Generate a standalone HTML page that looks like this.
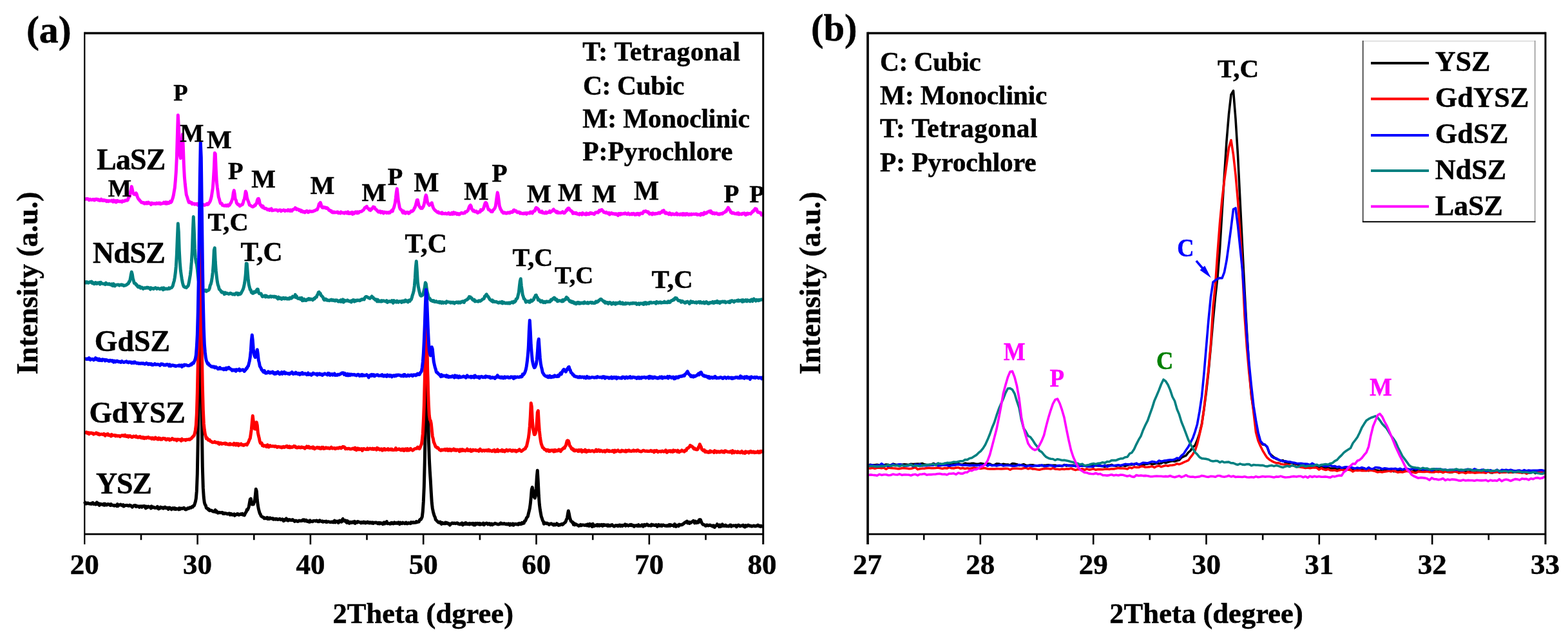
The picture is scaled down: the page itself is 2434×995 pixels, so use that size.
<!DOCTYPE html>
<html><head><meta charset="utf-8"><style>
html,body{margin:0;padding:0;background:#fff;}
svg{display:block;}
text{font-family:"Liberation Serif","Times New Roman",serif;font-weight:bold;fill:#000;stroke:#000;stroke-width:0.5px;}
</style></head><body>
<svg width="2434" height="995" viewBox="0 0 2434 995">
<rect width="2434" height="995" fill="#fff"/>
<polyline points="131.3,309.0 132.3,309.3 133.3,308.9 134.3,308.5 135.3,309.0 136.3,308.6 137.3,309.5 138.3,310.7 139.3,309.3 140.3,309.3 141.3,310.2 142.3,310.2 143.3,310.1 144.3,309.4 145.3,310.2 146.3,310.8 147.3,309.3 148.3,310.1 149.3,309.0 150.3,309.6 151.3,309.2 152.3,310.6 153.3,309.9 154.3,311.2 155.3,311.2 156.3,311.0 157.3,309.2 158.3,310.9 159.3,311.4 160.3,311.6 161.3,310.4 162.3,311.3 163.3,311.0 164.3,311.2 165.3,312.7 166.3,311.3 167.3,311.9 168.3,312.7 169.3,311.5 170.3,311.9 171.3,312.1 172.3,312.1 173.3,311.1 174.3,312.2 175.3,313.2 176.3,310.9 177.3,312.9 178.3,312.3 179.3,311.7 180.3,313.9 181.3,312.9 182.3,311.3 183.3,312.4 184.3,312.8 185.3,312.2 186.3,312.9 187.3,312.3 188.3,312.9 189.3,313.5 190.3,311.8 191.3,312.5 192.3,311.9 193.3,312.2 194.3,311.0 195.3,311.1 196.3,311.0 197.3,311.2 198.3,310.5 199.3,307.3 200.3,306.0 201.3,304.8 202.3,299.0 203.3,294.5 204.3,289.6 205.3,293.7 206.3,298.5 207.3,300.7 208.3,301.8 209.3,301.8 210.3,302.0 211.3,299.7 212.3,301.9 213.3,305.6 214.3,307.8 215.3,309.5 216.3,310.0 217.3,311.9 218.3,312.3 219.3,314.2 220.3,314.3 221.3,314.2 222.3,315.1 223.3,314.6 224.3,316.0 225.3,315.3 226.3,315.9 227.3,314.5 228.3,315.9 229.3,314.3 230.3,314.0 231.3,315.5 232.3,315.0 233.3,315.9 234.3,317.6 235.3,315.1 236.3,315.3 237.3,316.0 238.3,316.3 239.3,315.7 240.3,315.7 241.3,316.5 242.3,316.3 243.3,315.1 244.3,315.9 245.3,316.0 246.3,315.1 247.3,316.1 248.3,315.2 249.3,316.7 250.3,316.0 251.3,315.9 252.3,315.4 253.3,315.7 254.3,314.2 255.3,314.8 256.3,315.9 257.3,313.9 258.3,316.2 259.3,314.0 260.3,315.8 261.3,314.4 262.3,315.4 263.3,314.5 264.3,312.7 265.3,314.1 266.3,313.0 267.3,310.0 268.3,307.1 269.3,303.2 270.3,297.2 271.3,291.5 272.3,280.4 273.3,267.0 274.3,245.3 275.3,211.6 276.3,178.7 277.3,195.4 278.3,224.2 279.3,241.3 280.3,245.6 281.3,240.7 282.3,225.2 283.3,208.6 284.3,226.5 285.3,255.0 286.3,274.1 287.3,285.4 288.3,294.2 289.3,302.4 290.3,305.1 291.3,308.2 292.3,311.7 293.3,314.2 294.3,313.0 295.3,314.8 296.3,315.0 297.3,314.4 298.3,316.7 299.3,316.3 300.3,316.5 301.3,316.1 302.3,317.2 303.3,316.5 304.3,316.9 305.3,316.3 306.3,316.3 307.3,318.4 308.3,317.0 309.3,317.7 310.3,317.5 311.3,317.2 312.3,317.2 313.3,318.2 314.3,317.4 315.3,317.6 316.3,317.7 317.3,318.6 318.3,318.2 319.3,317.9 320.3,317.0 321.3,316.1 322.3,317.6 323.3,317.0 324.3,315.2 325.3,314.2 326.3,312.2 327.3,309.1 328.3,305.0 329.3,298.3 330.3,292.1 331.3,278.5 332.3,261.5 333.3,237.5 334.3,239.0 335.3,263.9 336.3,281.8 337.3,291.0 338.3,298.2 339.3,305.9 340.3,308.7 341.3,312.7 342.3,315.7 343.3,315.3 344.3,316.0 345.3,318.6 346.3,318.9 347.3,319.0 348.3,319.4 349.3,318.9 350.3,318.5 351.3,319.6 352.3,318.9 353.3,318.2 354.3,319.6 355.3,318.7 356.3,318.4 357.3,316.2 358.3,315.1 359.3,312.9 360.3,310.2 361.3,306.6 362.3,299.0 363.3,295.6 364.3,301.2 365.3,309.2 366.3,310.6 367.3,315.1 368.3,316.2 369.3,317.6 370.3,317.3 371.3,318.6 372.3,319.8 373.3,318.9 374.3,318.6 375.3,317.5 376.3,317.5 377.3,315.0 378.3,311.1 379.3,309.1 380.3,303.3 381.3,297.0 382.3,299.2 383.3,306.1 384.3,310.0 385.3,312.4 386.3,314.9 387.3,318.2 388.3,318.6 389.3,319.4 390.3,320.0 391.3,320.4 392.3,321.1 393.3,320.7 394.3,320.1 395.3,318.4 396.3,318.8 397.3,316.5 398.3,315.9 399.3,311.0 400.3,308.7 401.3,308.4 402.3,310.5 403.3,316.3 404.3,318.5 405.3,318.6 406.3,320.9 407.3,321.6 408.3,320.0 409.3,322.9 410.3,323.2 411.3,323.8 412.3,323.2 413.3,324.1 414.3,324.4 415.3,325.7 416.3,325.2 417.3,325.0 418.3,326.4 419.3,324.8 420.3,325.0 421.3,324.0 422.3,326.8 423.3,326.4 424.3,326.4 425.3,326.3 426.3,325.9 427.3,326.1 428.3,325.8 429.3,325.9 430.3,326.1 431.3,327.4 432.3,326.7 433.3,326.3 434.3,325.9 435.3,325.9 436.3,327.8 437.3,327.0 438.3,326.7 439.3,326.4 440.3,325.8 441.3,326.7 442.3,327.6 443.3,326.6 444.3,326.8 445.3,326.8 446.3,327.1 447.3,325.7 448.3,326.8 449.3,326.2 450.3,327.5 451.3,326.0 452.3,326.9 453.3,327.4 454.3,325.6 455.3,324.9 456.3,325.0 457.3,324.1 458.3,322.6 459.3,323.6 460.3,325.3 461.3,324.3 462.3,325.1 463.3,325.1 464.3,326.6 465.3,325.7 466.3,326.1 467.3,328.3 468.3,326.8 469.3,328.5 470.3,329.1 471.3,328.2 472.3,328.6 473.3,329.8 474.3,328.2 475.3,327.9 476.3,327.4 477.3,328.5 478.3,329.7 479.3,329.3 480.3,327.8 481.3,327.8 482.3,328.1 483.3,328.6 484.3,328.1 485.3,328.3 486.3,328.1 487.3,327.3 488.3,327.1 489.3,326.7 490.3,325.9 491.3,325.5 492.3,325.6 493.3,323.1 494.3,320.6 495.3,316.5 496.3,315.9 497.3,314.4 498.3,317.1 499.3,321.0 500.3,322.3 501.3,322.4 502.3,321.5 503.3,322.5 504.3,321.8 505.3,322.3 506.3,323.4 507.3,322.4 508.3,322.9 509.3,323.9 510.3,325.9 511.3,326.6 512.3,326.4 513.3,328.0 514.3,327.3 515.3,329.5 516.3,329.8 517.3,330.0 518.3,329.0 519.3,330.0 520.3,329.6 521.3,329.5 522.3,329.7 523.3,329.0 524.3,328.9 525.3,330.8 526.3,330.0 527.3,330.4 528.3,331.0 529.3,328.9 530.3,329.7 531.3,330.4 532.3,330.6 533.3,330.0 534.3,331.2 535.3,330.5 536.3,329.4 537.3,329.6 538.3,331.0 539.3,330.8 540.3,328.9 541.3,331.5 542.3,330.9 543.3,331.5 544.3,330.1 545.3,330.1 546.3,329.5 547.3,332.4 548.3,330.2 549.3,331.6 550.3,329.8 551.3,330.4 552.3,328.9 553.3,329.8 554.3,330.8 555.3,328.9 556.3,330.6 557.3,329.8 558.3,328.5 559.3,328.6 560.3,328.3 561.3,328.2 562.3,327.3 563.3,326.5 564.3,326.0 565.3,324.3 566.3,322.6 567.3,321.9 568.3,321.6 569.3,320.3 570.3,322.9 571.3,323.5 572.3,324.0 573.3,325.9 574.3,325.0 575.3,326.5 576.3,324.3 577.3,324.5 578.3,322.9 579.3,321.1 580.3,321.4 581.3,321.6 582.3,323.9 583.3,325.0 584.3,325.3 585.3,327.0 586.3,327.8 587.3,329.1 588.3,328.0 589.3,329.0 590.3,328.0 591.3,330.1 592.3,329.0 593.3,328.5 594.3,330.1 595.3,331.1 596.3,329.0 597.3,329.4 598.3,329.7 599.3,329.4 600.3,330.6 601.3,329.7 602.3,329.7 603.3,330.6 604.3,329.4 605.3,330.1 606.3,328.6 607.3,327.8 608.3,326.4 609.3,328.0 610.3,324.6 611.3,322.7 612.3,319.3 613.3,315.0 614.3,307.6 615.3,298.5 616.3,292.9 617.3,302.2 618.3,311.5 619.3,316.7 620.3,322.0 621.3,324.7 622.3,325.2 623.3,326.3 624.3,328.2 625.3,330.3 626.3,327.5 627.3,330.4 628.3,329.4 629.3,331.2 630.3,329.5 631.3,330.2 632.3,329.2 633.3,329.6 634.3,331.4 635.3,330.8 636.3,329.6 637.3,328.9 638.3,327.7 639.3,328.3 640.3,327.8 641.3,326.7 642.3,325.4 643.3,323.0 644.3,321.5 645.3,318.2 646.3,314.3 647.3,310.4 648.3,310.3 649.3,314.7 650.3,319.1 651.3,320.9 652.3,322.1 653.3,323.3 654.3,322.5 655.3,323.4 656.3,321.8 657.3,320.3 658.3,317.1 659.3,312.2 660.3,305.8 661.3,302.8 662.3,306.3 663.3,312.4 664.3,315.8 665.3,316.7 666.3,318.7 667.3,317.5 668.3,317.0 669.3,315.9 670.3,314.8 671.3,318.9 672.3,321.9 673.3,323.9 674.3,325.3 675.3,326.6 676.3,327.0 677.3,328.3 678.3,328.7 679.3,329.7 680.3,329.0 681.3,330.5 682.3,330.7 683.3,330.7 684.3,330.6 685.3,331.6 686.3,329.9 687.3,331.7 688.3,331.6 689.3,331.6 690.3,331.8 691.3,331.0 692.3,331.3 693.3,332.1 694.3,331.9 695.3,331.8 696.3,330.4 697.3,332.1 698.3,332.6 699.3,332.5 700.3,331.9 701.3,330.4 702.3,332.4 703.3,331.6 704.3,329.7 705.3,332.0 706.3,330.5 707.3,330.6 708.3,331.2 709.3,332.7 710.3,331.3 711.3,331.8 712.3,333.0 713.3,332.8 714.3,331.4 715.3,331.2 716.3,330.3 717.3,330.6 718.3,331.3 719.3,331.0 720.3,330.5 721.3,330.8 722.3,328.8 723.3,328.8 724.3,328.7 725.3,327.6 726.3,326.7 727.3,324.3 728.3,321.2 729.3,319.4 730.3,318.4 731.3,320.2 732.3,324.5 733.3,325.7 734.3,327.3 735.3,326.5 736.3,328.3 737.3,328.6 738.3,328.7 739.3,327.8 740.3,329.5 741.3,330.4 742.3,329.9 743.3,328.8 744.3,328.9 745.3,329.0 746.3,325.6 747.3,326.8 748.3,326.4 749.3,325.2 750.3,324.2 751.3,321.4 752.3,317.6 753.3,314.7 754.3,314.5 755.3,315.8 756.3,319.4 757.3,322.8 758.3,325.5 759.3,325.2 760.3,326.3 761.3,327.2 762.3,328.5 763.3,327.6 764.3,328.6 765.3,326.1 766.3,325.7 767.3,324.2 768.3,322.8 769.3,319.8 770.3,312.6 771.3,304.8 772.3,298.9 773.3,303.7 774.3,311.9 775.3,319.6 776.3,322.8 777.3,325.3 778.3,326.4 779.3,329.1 780.3,329.1 781.3,330.8 782.3,329.7 783.3,330.0 784.3,331.0 785.3,330.3 786.3,331.3 787.3,330.9 788.3,329.9 789.3,330.5 790.3,329.9 791.3,330.7 792.3,329.1 793.3,328.8 794.3,329.6 795.3,329.6 796.3,328.5 797.3,326.1 798.3,326.1 799.3,327.8 800.3,327.5 801.3,327.6 802.3,329.2 803.3,329.9 804.3,329.3 805.3,329.0 806.3,329.4 807.3,331.3 808.3,330.3 809.3,331.0 810.3,331.4 811.3,331.8 812.3,331.1 813.3,331.8 814.3,330.8 815.3,331.2 816.3,330.6 817.3,332.3 818.3,331.3 819.3,330.6 820.3,330.7 821.3,330.6 822.3,331.1 823.3,329.0 824.3,329.1 825.3,329.3 826.3,331.1 827.3,329.3 828.3,327.7 829.3,327.5 830.3,327.3 831.3,323.9 832.3,322.3 833.3,323.0 834.3,323.3 835.3,324.9 836.3,325.5 837.3,328.6 838.3,329.3 839.3,329.0 840.3,329.6 841.3,327.9 842.3,330.3 843.3,329.9 844.3,330.6 845.3,331.0 846.3,330.2 847.3,329.2 848.3,330.8 849.3,329.8 850.3,330.0 851.3,329.6 852.3,329.5 853.3,327.5 854.3,329.8 855.3,328.4 856.3,328.1 857.3,327.9 858.3,326.0 859.3,325.0 860.3,326.6 861.3,327.2 862.3,328.5 863.3,329.5 864.3,328.2 865.3,330.3 866.3,329.1 867.3,330.6 868.3,330.4 869.3,330.2 870.3,330.4 871.3,329.9 872.3,329.7 873.3,328.7 874.3,329.7 875.3,330.8 876.3,330.5 877.3,329.4 878.3,328.1 879.3,325.9 880.3,326.3 881.3,323.7 882.3,323.1 883.3,323.6 884.3,325.3 885.3,326.2 886.3,327.6 887.3,327.6 888.3,328.8 889.3,331.5 890.3,330.0 891.3,330.2 892.3,331.1 893.3,331.5 894.3,330.3 895.3,331.2 896.3,332.3 897.3,331.9 898.3,331.9 899.3,333.1 900.3,331.4 901.3,332.0 902.3,331.6 903.3,333.2 904.3,330.5 905.3,331.5 906.3,331.7 907.3,332.6 908.3,332.6 909.3,333.2 910.3,330.8 911.3,332.7 912.3,331.9 913.3,331.5 914.3,332.5 915.3,331.3 916.3,330.3 917.3,331.6 918.3,330.7 919.3,331.3 920.3,332.0 921.3,331.8 922.3,332.6 923.3,331.0 924.3,329.8 925.3,330.1 926.3,329.7 927.3,329.1 928.3,330.0 929.3,328.5 930.3,326.7 931.3,327.8 932.3,326.1 933.3,325.7 934.3,325.6 935.3,327.0 936.3,327.6 937.3,329.5 938.3,329.6 939.3,330.1 940.3,330.5 941.3,329.4 942.3,330.7 943.3,330.9 944.3,331.5 945.3,330.4 946.3,333.0 947.3,331.9 948.3,330.9 949.3,330.6 950.3,331.8 951.3,332.0 952.3,331.6 953.3,332.3 954.3,331.7 955.3,332.7 956.3,331.7 957.3,332.2 958.3,333.1 959.3,334.4 960.3,331.5 961.3,331.9 962.3,331.6 963.3,333.0 964.3,331.4 965.3,331.9 966.3,332.3 967.3,331.6 968.3,331.6 969.3,332.0 970.3,330.7 971.3,331.2 972.3,332.0 973.3,332.5 974.3,332.2 975.3,330.9 976.3,332.0 977.3,333.0 978.3,332.8 979.3,332.3 980.3,331.6 981.3,332.8 982.3,331.8 983.3,331.3 984.3,331.6 985.3,333.4 986.3,332.4 987.3,333.1 988.3,331.7 989.3,332.7 990.3,331.4 991.3,331.7 992.3,333.6 993.3,332.1 994.3,330.9 995.3,331.0 996.3,331.1 997.3,331.5 998.3,329.7 999.3,328.2 1000.3,328.7 1001.3,328.1 1002.3,327.6 1003.3,328.6 1004.3,328.5 1005.3,329.7 1006.3,328.8 1007.3,330.9 1008.3,332.2 1009.3,331.5 1010.3,331.3 1011.3,331.4 1012.3,332.9 1013.3,330.8 1014.3,331.5 1015.3,332.0 1016.3,332.3 1017.3,331.3 1018.3,331.9 1019.3,331.3 1020.3,331.5 1021.3,331.2 1022.3,330.2 1023.3,330.9 1024.3,331.3 1025.3,329.5 1026.3,329.5 1027.3,329.6 1028.3,327.4 1029.3,327.8 1030.3,326.7 1031.3,329.1 1032.3,330.8 1033.3,331.3 1034.3,330.0 1035.3,331.2 1036.3,331.1 1037.3,331.3 1038.3,332.7 1039.3,330.6 1040.3,332.6 1041.3,331.9 1042.3,333.2 1043.3,332.3 1044.3,331.7 1045.3,332.5 1046.3,332.9 1047.3,332.4 1048.3,332.8 1049.3,332.0 1050.3,330.8 1051.3,333.2 1052.3,333.1 1053.3,332.6 1054.3,332.6 1055.3,333.4 1056.3,332.2 1057.3,332.0 1058.3,332.4 1059.3,333.5 1060.3,331.5 1061.3,333.5 1062.3,332.1 1063.3,331.7 1064.3,333.6 1065.3,332.5 1066.3,331.6 1067.3,332.3 1068.3,333.3 1069.3,333.6 1070.3,332.3 1071.3,332.9 1072.3,333.2 1073.3,332.1 1074.3,332.9 1075.3,332.6 1076.3,332.2 1077.3,332.2 1078.3,332.6 1079.3,332.6 1080.3,332.1 1081.3,332.2 1082.3,333.4 1083.3,332.7 1084.3,333.1 1085.3,333.3 1086.3,332.8 1087.3,334.1 1088.3,331.5 1089.3,332.7 1090.3,331.7 1091.3,333.2 1092.3,332.9 1093.3,329.8 1094.3,330.3 1095.3,331.3 1096.3,331.0 1097.3,330.4 1098.3,329.1 1099.3,328.7 1100.3,328.3 1101.3,327.8 1102.3,329.3 1103.3,327.5 1104.3,330.4 1105.3,329.6 1106.3,331.6 1107.3,330.9 1108.3,330.6 1109.3,331.9 1110.3,331.0 1111.3,331.1 1112.3,330.7 1113.3,332.0 1114.3,332.4 1115.3,332.8 1116.3,331.9 1117.3,332.7 1118.3,331.8 1119.3,331.5 1120.3,331.9 1121.3,332.0 1122.3,330.5 1123.3,330.2 1124.3,329.7 1125.3,329.3 1126.3,327.7 1127.3,328.1 1128.3,325.5 1129.3,324.4 1130.3,322.2 1131.3,323.6 1132.3,325.4 1133.3,326.4 1134.3,329.6 1135.3,329.3 1136.3,331.1 1137.3,331.0 1138.3,330.2 1139.3,330.8 1140.3,331.8 1141.3,331.7 1142.3,331.9 1143.3,331.9 1144.3,330.8 1145.3,332.2 1146.3,330.7 1147.3,332.8 1148.3,332.0 1149.3,332.0 1150.3,332.4 1151.3,332.8 1152.3,331.5 1153.3,331.2 1154.3,331.7 1155.3,330.9 1156.3,331.7 1157.3,333.7 1158.3,331.5 1159.3,332.8 1160.3,331.0 1161.3,332.2 1162.3,331.4 1163.3,331.4 1164.3,331.6 1165.3,332.1 1166.3,330.4 1167.3,329.8 1168.3,328.1 1169.3,328.3 1170.3,326.3 1171.3,325.5 1172.3,323.9 1173.3,326.0 1174.3,324.5 1175.3,327.4 1176.3,329.4 1177.3,329.3 1178.3,329.6 1179.3,330.5 1180.3,330.0 1181.3,331.5 1182.3,333.7 1183.3,332.9 1184.3,331.3" fill="none" stroke="#FF00FF" stroke-width="5" stroke-linejoin="round"/>
<polyline points="131.3,437.3 132.3,437.7 133.3,439.0 134.3,437.6 135.3,437.8 136.3,439.1 137.3,439.2 138.3,438.3 139.3,437.8 140.3,437.5 141.3,438.3 142.3,437.1 143.3,439.6 144.3,438.6 145.3,439.6 146.3,440.8 147.3,440.3 148.3,438.5 149.3,440.2 150.3,440.5 151.3,439.1 152.3,439.0 153.3,439.8 154.3,438.7 155.3,441.2 156.3,438.2 157.3,439.3 158.3,440.1 159.3,440.2 160.3,440.6 161.3,440.8 162.3,440.5 163.3,441.6 164.3,439.1 165.3,440.9 166.3,440.4 167.3,441.2 168.3,441.3 169.3,440.5 170.3,440.8 171.3,442.0 172.3,441.8 173.3,441.0 174.3,443.3 175.3,443.6 176.3,440.6 177.3,442.1 178.3,444.0 179.3,442.7 180.3,442.3 181.3,442.1 182.3,441.9 183.3,442.2 184.3,442.0 185.3,443.1 186.3,442.3 187.3,442.3 188.3,441.8 189.3,442.7 190.3,442.1 191.3,442.7 192.3,443.7 193.3,443.1 194.3,443.1 195.3,442.7 196.3,442.1 197.3,441.4 198.3,440.4 199.3,440.2 200.3,437.2 201.3,437.0 202.3,432.6 203.3,426.6 204.3,422.1 205.3,425.6 206.3,432.3 207.3,435.5 208.3,439.5 209.3,439.8 210.3,440.0 211.3,442.3 212.3,442.1 213.3,444.3 214.3,445.6 215.3,445.7 216.3,444.3 217.3,445.0 218.3,447.2 219.3,446.2 220.3,446.1 221.3,447.1 222.3,448.3 223.3,447.5 224.3,446.7 225.3,447.0 226.3,447.3 227.3,446.4 228.3,446.1 229.3,447.1 230.3,446.4 231.3,447.1 232.3,447.3 233.3,449.2 234.3,446.7 235.3,447.4 236.3,447.4 237.3,448.0 238.3,448.5 239.3,447.4 240.3,447.2 241.3,446.6 242.3,447.2 243.3,448.4 244.3,448.1 245.3,447.3 246.3,447.9 247.3,448.2 248.3,448.7 249.3,447.8 250.3,448.2 251.3,447.0 252.3,447.5 253.3,449.8 254.3,446.8 255.3,448.3 256.3,448.7 257.3,448.3 258.3,447.9 259.3,448.5 260.3,448.5 261.3,448.3 262.3,446.8 263.3,448.0 264.3,447.1 265.3,446.8 266.3,446.5 267.3,445.4 268.3,443.5 269.3,439.3 270.3,436.3 271.3,430.9 272.3,423.4 273.3,413.2 274.3,395.9 275.3,370.2 276.3,347.1 277.3,360.2 278.3,389.7 279.3,407.6 280.3,419.4 281.3,426.5 282.3,433.2 283.3,438.5 284.3,442.5 285.3,444.8 286.3,445.4 287.3,446.1 288.3,445.8 289.3,446.6 290.3,445.3 291.3,444.6 292.3,443.3 293.3,438.6 294.3,432.9 295.3,427.1 296.3,418.2 297.3,406.5 298.3,389.8 299.3,359.5 300.3,336.5 301.3,358.4 302.3,385.7 303.3,400.0 304.3,407.0 305.3,410.2 306.3,417.6 307.3,428.2 308.3,436.1 309.3,441.1 310.3,444.5 311.3,447.0 312.3,448.2 313.3,447.6 314.3,449.6 315.3,450.5 316.3,450.4 317.3,451.7 318.3,450.8 319.3,450.4 320.3,452.3 321.3,451.5 322.3,450.8 323.3,450.7 324.3,449.7 325.3,447.4 326.3,442.8 327.3,441.0 328.3,436.8 329.3,430.4 330.3,422.5 331.3,409.1 332.3,388.1 333.3,384.8 334.3,406.5 335.3,420.3 336.3,429.5 337.3,437.2 338.3,442.2 339.3,444.9 340.3,448.9 341.3,449.8 342.3,450.9 343.3,452.7 344.3,453.9 345.3,453.2 346.3,454.3 347.3,454.2 348.3,456.7 349.3,454.1 350.3,455.9 351.3,454.9 352.3,454.9 353.3,455.7 354.3,456.0 355.3,456.4 356.3,455.7 357.3,455.1 358.3,455.2 359.3,456.1 360.3,456.3 361.3,457.0 362.3,456.3 363.3,456.8 364.3,457.3 365.3,456.2 366.3,455.0 367.3,455.2 368.3,455.0 369.3,457.4 370.3,455.4 371.3,456.9 372.3,456.0 373.3,456.4 374.3,455.0 375.3,452.9 376.3,451.1 377.3,449.0 378.3,445.9 379.3,441.0 380.3,434.9 381.3,425.8 382.3,409.0 383.3,409.4 384.3,422.4 385.3,434.4 386.3,441.8 387.3,445.6 388.3,449.6 389.3,450.1 390.3,454.0 391.3,453.7 392.3,455.3 393.3,455.2 394.3,452.8 395.3,453.8 396.3,453.7 397.3,453.3 398.3,450.3 399.3,449.1 400.3,449.0 401.3,453.6 402.3,455.7 403.3,455.6 404.3,456.3 405.3,455.9 406.3,458.5 407.3,460.5 408.3,459.3 409.3,460.1 410.3,459.8 411.3,458.8 412.3,460.9 413.3,459.0 414.3,459.9 415.3,460.5 416.3,461.1 417.3,460.8 418.3,460.9 419.3,460.0 420.3,459.7 421.3,460.9 422.3,460.5 423.3,460.1 424.3,460.3 425.3,461.1 426.3,460.1 427.3,460.7 428.3,460.6 429.3,462.2 430.3,462.5 431.3,463.9 432.3,461.2 433.3,462.0 434.3,463.4 435.3,462.6 436.3,462.7 437.3,464.4 438.3,462.9 439.3,462.3 440.3,462.3 441.3,463.7 442.3,463.8 443.3,462.5 444.3,462.8 445.3,464.1 446.3,464.1 447.3,463.2 448.3,464.1 449.3,464.0 450.3,462.0 451.3,462.9 452.3,463.2 453.3,462.0 454.3,460.2 455.3,461.0 456.3,460.9 457.3,460.7 458.3,457.4 459.3,461.7 460.3,459.7 461.3,462.3 462.3,463.2 463.3,463.6 464.3,463.3 465.3,462.7 466.3,464.4 467.3,463.6 468.3,462.3 469.3,466.8 470.3,465.3 471.3,466.3 472.3,464.2 473.3,466.2 474.3,466.4 475.3,466.4 476.3,465.2 477.3,464.3 478.3,465.1 479.3,463.5 480.3,463.8 481.3,465.1 482.3,464.1 483.3,464.6 484.3,464.5 485.3,465.8 486.3,464.9 487.3,463.4 488.3,463.9 489.3,461.7 490.3,461.3 491.3,461.2 492.3,458.1 493.3,457.0 494.3,453.8 495.3,453.4 496.3,455.2 497.3,455.4 498.3,458.5 499.3,459.3 500.3,460.4 501.3,461.3 502.3,464.2 503.3,465.6 504.3,464.6 505.3,464.1 506.3,465.6 507.3,465.1 508.3,466.3 509.3,466.1 510.3,466.3 511.3,466.7 512.3,465.8 513.3,466.1 514.3,465.1 515.3,466.2 516.3,465.5 517.3,466.5 518.3,465.9 519.3,466.8 520.3,467.1 521.3,465.7 522.3,466.2 523.3,466.1 524.3,467.5 525.3,468.2 526.3,467.6 527.3,466.6 528.3,468.1 529.3,465.7 530.3,468.2 531.3,466.4 532.3,464.8 533.3,469.1 534.3,468.3 535.3,466.2 536.3,467.2 537.3,466.9 538.3,467.1 539.3,465.9 540.3,466.5 541.3,467.5 542.3,467.3 543.3,468.0 544.3,467.2 545.3,469.0 546.3,466.5 547.3,467.3 548.3,465.5 549.3,466.0 550.3,468.1 551.3,466.2 552.3,467.3 553.3,466.8 554.3,465.9 555.3,466.4 556.3,466.1 557.3,466.0 558.3,466.8 559.3,466.4 560.3,465.2 561.3,464.6 562.3,465.1 563.3,464.3 564.3,464.5 565.3,464.9 566.3,462.3 567.3,460.8 568.3,460.5 569.3,460.5 570.3,461.2 571.3,461.7 572.3,462.5 573.3,462.5 574.3,463.3 575.3,462.0 576.3,461.5 577.3,460.0 578.3,462.0 579.3,461.7 580.3,463.8 581.3,464.0 582.3,465.4 583.3,464.7 584.3,465.9 585.3,467.9 586.3,465.1 587.3,467.3 588.3,468.0 589.3,467.1 590.3,467.6 591.3,468.2 592.3,466.7 593.3,467.7 594.3,466.7 595.3,467.0 596.3,467.1 597.3,467.5 598.3,467.8 599.3,468.1 600.3,466.6 601.3,469.4 602.3,468.7 603.3,468.4 604.3,467.5 605.3,467.8 606.3,468.3 607.3,468.2 608.3,466.5 609.3,468.5 610.3,470.3 611.3,466.5 612.3,468.8 613.3,468.3 614.3,467.9 615.3,469.1 616.3,467.1 617.3,468.2 618.3,469.2 619.3,467.9 620.3,467.7 621.3,468.1 622.3,467.7 623.3,469.3 624.3,467.3 625.3,468.7 626.3,467.0 627.3,468.5 628.3,467.9 629.3,465.8 630.3,467.8 631.3,466.9 632.3,467.3 633.3,468.8 634.3,466.3 635.3,466.0 636.3,467.4 637.3,465.3 638.3,465.0 639.3,462.0 640.3,458.2 641.3,455.2 642.3,451.3 643.3,444.0 644.3,431.9 645.3,414.9 646.3,405.5 647.3,419.4 648.3,436.9 649.3,444.8 650.3,449.7 651.3,454.2 652.3,457.9 653.3,459.3 654.3,459.2 655.3,458.5 656.3,457.8 657.3,454.1 658.3,450.5 659.3,446.1 660.3,438.8 661.3,440.5 662.3,448.2 663.3,453.8 664.3,457.3 665.3,461.9 666.3,462.7 667.3,463.5 668.3,465.7 669.3,466.5 670.3,466.2 671.3,467.6 672.3,467.8 673.3,466.7 674.3,468.4 675.3,468.5 676.3,468.5 677.3,467.6 678.3,468.7 679.3,469.1 680.3,469.2 681.3,468.3 682.3,469.8 683.3,468.3 684.3,469.1 685.3,470.4 686.3,468.8 687.3,469.0 688.3,470.3 689.3,469.2 690.3,469.3 691.3,469.7 692.3,470.4 693.3,467.8 694.3,468.9 695.3,468.8 696.3,468.8 697.3,469.0 698.3,469.0 699.3,470.0 700.3,469.0 701.3,469.8 702.3,470.1 703.3,469.1 704.3,469.8 705.3,471.1 706.3,470.0 707.3,469.2 708.3,469.6 709.3,468.9 710.3,469.8 711.3,470.2 712.3,468.8 713.3,469.2 714.3,470.1 715.3,468.7 716.3,469.1 717.3,467.9 718.3,467.8 719.3,467.7 720.3,469.5 721.3,467.1 722.3,466.5 723.3,465.9 724.3,465.5 725.3,465.1 726.3,463.5 727.3,463.4 728.3,460.5 729.3,461.1 730.3,461.1 731.3,462.9 732.3,462.7 733.3,464.9 734.3,465.7 735.3,466.2 736.3,465.2 737.3,468.0 738.3,467.2 739.3,467.4 740.3,467.6 741.3,467.7 742.3,468.1 743.3,466.7 744.3,466.8 745.3,467.4 746.3,467.0 747.3,466.1 748.3,465.3 749.3,464.3 750.3,464.0 751.3,463.7 752.3,460.1 753.3,460.1 754.3,457.9 755.3,456.8 756.3,459.4 757.3,459.7 758.3,461.3 759.3,463.0 760.3,464.8 761.3,465.7 762.3,466.2 763.3,467.3 764.3,465.9 765.3,468.5 766.3,467.3 767.3,468.2 768.3,468.6 769.3,468.2 770.3,468.2 771.3,468.7 772.3,469.6 773.3,470.1 774.3,470.2 775.3,469.0 776.3,469.2 777.3,469.1 778.3,470.2 779.3,468.3 780.3,470.9 781.3,469.5 782.3,469.3 783.3,470.2 784.3,470.7 785.3,470.2 786.3,470.8 787.3,470.0 788.3,470.9 789.3,470.9 790.3,469.8 791.3,471.0 792.3,469.9 793.3,469.8 794.3,468.9 795.3,469.3 796.3,470.0 797.3,468.0 798.3,469.2 799.3,468.3 800.3,467.3 801.3,464.0 802.3,463.9 803.3,462.2 804.3,457.8 805.3,453.9 806.3,444.4 807.3,436.3 808.3,432.7 809.3,443.8 810.3,450.3 811.3,457.6 812.3,460.4 813.3,463.8 814.3,464.3 815.3,465.9 816.3,469.1 817.3,467.2 818.3,467.6 819.3,468.1 820.3,467.5 821.3,469.1 822.3,469.3 823.3,467.0 824.3,465.8 825.3,467.6 826.3,467.0 827.3,465.9 828.3,465.1 829.3,462.1 830.3,460.9 831.3,458.4 832.3,458.1 833.3,461.2 834.3,461.7 835.3,465.6 836.3,465.0 837.3,465.4 838.3,467.2 839.3,468.6 840.3,468.0 841.3,467.0 842.3,468.6 843.3,469.6 844.3,468.3 845.3,468.2 846.3,469.7 847.3,469.0 848.3,467.9 849.3,468.4 850.3,467.9 851.3,468.5 852.3,468.1 853.3,468.5 854.3,467.7 855.3,465.2 856.3,465.9 857.3,465.2 858.3,463.6 859.3,463.1 860.3,462.0 861.3,462.7 862.3,465.4 863.3,464.8 864.3,464.7 865.3,467.8 866.3,466.7 867.3,467.3 868.3,466.6 869.3,466.8 870.3,466.9 871.3,467.5 872.3,467.9 873.3,465.5 874.3,467.6 875.3,465.5 876.3,464.8 877.3,465.2 878.3,463.4 879.3,461.3 880.3,464.0 881.3,462.8 882.3,465.0 883.3,466.1 884.3,467.9 885.3,467.1 886.3,468.8 887.3,467.8 888.3,469.6 889.3,468.4 890.3,469.0 891.3,471.0 892.3,469.9 893.3,469.9 894.3,471.8 895.3,470.4 896.3,469.5 897.3,470.8 898.3,469.4 899.3,471.2 900.3,471.3 901.3,469.9 902.3,469.9 903.3,470.6 904.3,470.5 905.3,469.7 906.3,470.9 907.3,468.8 908.3,470.1 909.3,470.2 910.3,470.3 911.3,470.7 912.3,469.5 913.3,470.9 914.3,470.2 915.3,469.8 916.3,469.2 917.3,469.3 918.3,470.4 919.3,469.3 920.3,469.9 921.3,470.6 922.3,470.4 923.3,470.6 924.3,468.8 925.3,467.9 926.3,469.2 927.3,468.1 928.3,468.2 929.3,466.5 930.3,466.4 931.3,465.0 932.3,464.3 933.3,464.5 934.3,465.5 935.3,466.5 936.3,467.3 937.3,468.6 938.3,467.9 939.3,470.1 940.3,469.0 941.3,470.1 942.3,469.5 943.3,469.6 944.3,471.6 945.3,469.9 946.3,469.2 947.3,469.8 948.3,470.2 949.3,472.2 950.3,470.7 951.3,471.4 952.3,469.9 953.3,471.0 954.3,471.2 955.3,472.2 956.3,470.2 957.3,471.2 958.3,471.0 959.3,470.0 960.3,470.8 961.3,470.6 962.3,468.9 963.3,471.3 964.3,471.3 965.3,470.5 966.3,469.8 967.3,472.0 968.3,471.1 969.3,471.7 970.3,472.0 971.3,470.4 972.3,471.5 973.3,470.7 974.3,470.8 975.3,470.8 976.3,470.9 977.3,471.8 978.3,471.0 979.3,470.8 980.3,470.7 981.3,471.2 982.3,470.2 983.3,470.5 984.3,470.9 985.3,470.5 986.3,470.8 987.3,470.5 988.3,472.5 989.3,472.0 990.3,471.3 991.3,470.9 992.3,472.6 993.3,471.1 994.3,470.7 995.3,471.0 996.3,471.0 997.3,471.8 998.3,470.7 999.3,472.3 1000.3,469.9 1001.3,471.1 1002.3,469.7 1003.3,472.0 1004.3,470.2 1005.3,470.4 1006.3,471.1 1007.3,471.4 1008.3,469.4 1009.3,470.0 1010.3,469.2 1011.3,470.3 1012.3,470.1 1013.3,469.9 1014.3,469.6 1015.3,469.8 1016.3,469.5 1017.3,470.4 1018.3,471.2 1019.3,468.4 1020.3,469.8 1021.3,469.5 1022.3,470.2 1023.3,469.0 1024.3,469.6 1025.3,468.9 1026.3,470.2 1027.3,469.7 1028.3,469.4 1029.3,469.8 1030.3,469.3 1031.3,468.1 1032.3,469.8 1033.3,469.4 1034.3,469.0 1035.3,469.8 1036.3,469.8 1037.3,467.8 1038.3,467.9 1039.3,469.5 1040.3,469.2 1041.3,467.2 1042.3,466.5 1043.3,466.6 1044.3,466.2 1045.3,464.8 1046.3,465.3 1047.3,463.3 1048.3,462.4 1049.3,463.7 1050.3,463.0 1051.3,464.4 1052.3,465.9 1053.3,466.8 1054.3,466.4 1055.3,467.1 1056.3,466.8 1057.3,469.1 1058.3,468.5 1059.3,467.3 1060.3,468.4 1061.3,469.1 1062.3,469.1 1063.3,470.3 1064.3,470.0 1065.3,468.6 1066.3,469.0 1067.3,468.1 1068.3,469.4 1069.3,469.3 1070.3,471.4 1071.3,469.4 1072.3,467.7 1073.3,468.8 1074.3,469.5 1075.3,468.4 1076.3,468.8 1077.3,469.2 1078.3,469.8 1079.3,469.4 1080.3,468.8 1081.3,470.2 1082.3,469.2 1083.3,469.2 1084.3,468.5 1085.3,469.0 1086.3,470.2 1087.3,468.4 1088.3,469.7 1089.3,470.3 1090.3,469.5 1091.3,470.0 1092.3,468.9 1093.3,470.9 1094.3,470.7 1095.3,470.1 1096.3,468.5 1097.3,469.1 1098.3,470.7 1099.3,471.3 1100.3,470.2 1101.3,470.9 1102.3,469.4 1103.3,469.6 1104.3,469.7 1105.3,470.0 1106.3,468.4 1107.3,470.3 1108.3,470.5 1109.3,468.5 1110.3,468.3 1111.3,469.6 1112.3,468.7 1113.3,467.3 1114.3,469.8 1115.3,469.2 1116.3,468.6 1117.3,470.6 1118.3,469.0 1119.3,468.2 1120.3,468.9 1121.3,467.9 1122.3,468.0 1123.3,468.9 1124.3,468.1 1125.3,468.1 1126.3,469.8 1127.3,469.0 1128.3,468.9 1129.3,468.7 1130.3,468.6 1131.3,469.3 1132.3,468.0 1133.3,469.5 1134.3,467.2 1135.3,467.7 1136.3,466.7 1137.3,467.5 1138.3,468.1 1139.3,468.8 1140.3,467.1 1141.3,467.5 1142.3,467.2 1143.3,466.8 1144.3,466.4 1145.3,467.3 1146.3,465.8 1147.3,467.3 1148.3,467.1 1149.3,466.5 1150.3,466.2 1151.3,465.8 1152.3,468.4 1153.3,465.7 1154.3,468.0 1155.3,467.2 1156.3,466.3 1157.3,465.7 1158.3,467.4 1159.3,467.8 1160.3,465.7 1161.3,466.1 1162.3,467.1 1163.3,466.5 1164.3,467.8 1165.3,465.6 1166.3,466.5 1167.3,465.0 1168.3,467.6 1169.3,465.3 1170.3,464.0 1171.3,465.6 1172.3,465.6 1173.3,467.2 1174.3,465.3 1175.3,465.5 1176.3,465.9 1177.3,466.7 1178.3,465.3 1179.3,466.1 1180.3,465.6 1181.3,464.9 1182.3,465.2 1183.3,465.1 1184.3,464.3" fill="none" stroke="#008080" stroke-width="5" stroke-linejoin="round"/>
<polyline points="131.3,782.0 132.3,779.9 133.3,782.1 134.3,781.9 135.3,781.2 136.3,780.7 137.3,781.2 138.3,781.8 139.3,782.1 140.3,781.8 141.3,782.4 142.3,781.2 143.3,781.9 144.3,780.5 145.3,782.5 146.3,782.1 147.3,781.7 148.3,783.0 149.3,782.7 150.3,779.9 151.3,782.3 152.3,781.1 153.3,783.2 154.3,784.4 155.3,782.1 156.3,782.6 157.3,782.4 158.3,783.0 159.3,783.3 160.3,783.8 161.3,782.1 162.3,784.2 163.3,782.2 164.3,783.3 165.3,784.0 166.3,783.7 167.3,782.5 168.3,782.7 169.3,783.0 170.3,783.4 171.3,784.4 172.3,782.5 173.3,784.0 174.3,784.2 175.3,784.2 176.3,784.2 177.3,785.1 178.3,784.3 179.3,784.7 180.3,784.5 181.3,785.5 182.3,782.7 183.3,785.3 184.3,784.1 185.3,784.1 186.3,783.6 187.3,783.0 188.3,784.2 189.3,784.1 190.3,785.1 191.3,783.6 192.3,785.9 193.3,785.1 194.3,784.7 195.3,784.4 196.3,784.4 197.3,784.2 198.3,784.7 199.3,785.2 200.3,785.1 201.3,784.2 202.3,785.2 203.3,784.8 204.3,785.7 205.3,787.1 206.3,786.2 207.3,785.5 208.3,784.5 209.3,784.7 210.3,784.6 211.3,786.5 212.3,785.4 213.3,786.1 214.3,785.7 215.3,786.3 216.3,787.4 217.3,785.8 218.3,786.1 219.3,785.8 220.3,787.2 221.3,785.8 222.3,785.7 223.3,785.6 224.3,785.6 225.3,787.2 226.3,788.9 227.3,786.1 228.3,787.8 229.3,787.3 230.3,786.2 231.3,787.0 232.3,787.1 233.3,786.7 234.3,788.9 235.3,785.9 236.3,787.8 237.3,787.8 238.3,787.1 239.3,787.8 240.3,788.4 241.3,787.9 242.3,788.2 243.3,788.4 244.3,786.3 245.3,789.2 246.3,789.9 247.3,788.9 248.3,789.0 249.3,787.1 250.3,788.2 251.3,787.7 252.3,787.9 253.3,789.2 254.3,787.9 255.3,788.5 256.3,787.1 257.3,788.5 258.3,788.8 259.3,788.2 260.3,788.3 261.3,790.4 262.3,788.0 263.3,788.1 264.3,788.4 265.3,790.0 266.3,790.8 267.3,789.4 268.3,788.6 269.3,788.9 270.3,790.2 271.3,788.6 272.3,790.5 273.3,790.5 274.3,789.5 275.3,790.0 276.3,790.1 277.3,790.8 278.3,788.7 279.3,790.5 280.3,789.3 281.3,789.0 282.3,789.7 283.3,789.4 284.3,788.8 285.3,788.3 286.3,788.8 287.3,790.6 288.3,791.0 289.3,789.9 290.3,790.2 291.3,788.8 292.3,789.0 293.3,789.2 294.3,787.9 295.3,787.7 296.3,788.3 297.3,787.5 298.3,786.3 299.3,786.8 300.3,785.2 301.3,784.9 302.3,782.1 303.3,778.9 304.3,774.0 305.3,762.4 306.3,736.0 307.3,682.3 308.3,590.9 309.3,466.8 310.3,376.5 311.3,427.1 312.3,553.7 313.3,658.4 314.3,724.3 315.3,757.2 316.3,772.1 317.3,780.0 318.3,783.3 319.3,784.6 320.3,788.3 321.3,789.4 322.3,789.2 323.3,791.1 324.3,790.6 325.3,792.6 326.3,792.1 327.3,792.0 328.3,792.7 329.3,792.8 330.3,793.8 331.3,794.1 332.3,794.2 333.3,794.0 334.3,791.7 335.3,794.9 336.3,793.5 337.3,795.4 338.3,796.2 339.3,795.7 340.3,795.3 341.3,795.7 342.3,795.8 343.3,795.6 344.3,795.7 345.3,795.6 346.3,797.4 347.3,796.6 348.3,797.5 349.3,796.6 350.3,797.0 351.3,796.9 352.3,797.6 353.3,798.0 354.3,797.6 355.3,797.0 356.3,797.0 357.3,799.1 358.3,797.6 359.3,797.7 360.3,799.2 361.3,799.0 362.3,798.7 363.3,798.0 364.3,800.3 365.3,798.8 366.3,799.0 367.3,798.5 368.3,797.6 369.3,797.8 370.3,799.2 371.3,799.2 372.3,798.8 373.3,798.0 374.3,797.8 375.3,798.6 376.3,797.5 377.3,799.2 378.3,799.0 379.3,799.9 380.3,797.7 381.3,795.7 382.3,794.4 383.3,791.0 384.3,791.4 385.3,789.3 386.3,786.5 387.3,780.9 388.3,775.2 389.3,774.1 390.3,778.6 391.3,783.0 392.3,782.6 393.3,782.9 394.3,780.1 395.3,778.1 396.3,769.3 397.3,759.3 398.3,762.5 399.3,775.9 400.3,784.2 401.3,789.9 402.3,793.6 403.3,797.0 404.3,798.5 405.3,801.1 406.3,801.9 407.3,802.3 408.3,803.1 409.3,803.3 410.3,804.7 411.3,804.0 412.3,804.7 413.3,804.2 414.3,803.5 415.3,805.5 416.3,804.0 417.3,805.5 418.3,805.4 419.3,803.8 420.3,804.5 421.3,804.9 422.3,804.8 423.3,804.6 424.3,806.2 425.3,805.5 426.3,806.0 427.3,805.4 428.3,806.1 429.3,805.3 430.3,806.0 431.3,806.5 432.3,806.2 433.3,805.8 434.3,805.4 435.3,806.5 436.3,806.7 437.3,806.3 438.3,805.9 439.3,807.0 440.3,808.7 441.3,806.5 442.3,807.1 443.3,807.2 444.3,804.9 445.3,807.1 446.3,806.5 447.3,808.2 448.3,807.0 449.3,806.6 450.3,807.1 451.3,807.5 452.3,807.0 453.3,807.4 454.3,806.5 455.3,807.4 456.3,808.3 457.3,809.3 458.3,808.4 459.3,808.1 460.3,808.9 461.3,808.8 462.3,809.4 463.3,809.0 464.3,808.1 465.3,808.4 466.3,808.4 467.3,808.6 468.3,808.6 469.3,807.8 470.3,806.8 471.3,808.0 472.3,807.0 473.3,808.7 474.3,808.6 475.3,807.3 476.3,809.2 477.3,809.4 478.3,808.8 479.3,810.1 480.3,810.3 481.3,807.9 482.3,809.7 483.3,809.3 484.3,809.3 485.3,809.7 486.3,808.4 487.3,808.5 488.3,808.4 489.3,808.5 490.3,809.0 491.3,808.0 492.3,808.3 493.3,809.6 494.3,809.2 495.3,809.6 496.3,807.8 497.3,808.7 498.3,808.9 499.3,809.4 500.3,808.9 501.3,810.2 502.3,809.4 503.3,809.5 504.3,809.5 505.3,810.1 506.3,809.2 507.3,810.5 508.3,810.0 509.3,809.8 510.3,809.7 511.3,810.1 512.3,810.5 513.3,810.5 514.3,810.1 515.3,810.5 516.3,809.9 517.3,810.8 518.3,809.8 519.3,808.2 520.3,811.0 521.3,810.0 522.3,809.0 523.3,809.7 524.3,809.1 525.3,811.4 526.3,810.1 527.3,808.2 528.3,809.7 529.3,808.6 530.3,810.0 531.3,806.8 532.3,805.5 533.3,808.2 534.3,808.6 535.3,809.0 536.3,807.9 537.3,810.2 538.3,811.4 539.3,808.7 540.3,811.2 541.3,809.9 542.3,812.3 543.3,810.8 544.3,810.4 545.3,811.5 546.3,811.0 547.3,810.2 548.3,811.2 549.3,810.3 550.3,809.3 551.3,812.4 552.3,810.5 553.3,810.3 554.3,811.1 555.3,809.6 556.3,809.8 557.3,810.5 558.3,810.5 559.3,811.0 560.3,811.9 561.3,810.6 562.3,811.4 563.3,811.5 564.3,810.2 565.3,811.3 566.3,810.4 567.3,812.0 568.3,811.5 569.3,811.2 570.3,810.1 571.3,811.3 572.3,810.6 573.3,811.9 574.3,811.2 575.3,810.7 576.3,812.1 577.3,812.0 578.3,810.9 579.3,812.4 580.3,811.2 581.3,811.2 582.3,811.6 583.3,810.9 584.3,811.2 585.3,811.4 586.3,812.8 587.3,812.8 588.3,811.4 589.3,812.9 590.3,811.6 591.3,812.0 592.3,812.4 593.3,812.0 594.3,813.7 595.3,812.0 596.3,810.8 597.3,812.9 598.3,811.5 599.3,811.6 600.3,809.5 601.3,812.7 602.3,812.6 603.3,812.6 604.3,812.8 605.3,813.3 606.3,812.0 607.3,812.8 608.3,811.4 609.3,811.8 610.3,812.9 611.3,812.4 612.3,811.0 613.3,812.4 614.3,812.0 615.3,811.5 616.3,812.5 617.3,811.9 618.3,810.9 619.3,811.3 620.3,813.6 621.3,811.0 622.3,812.3 623.3,812.6 624.3,812.7 625.3,811.2 626.3,811.9 627.3,812.2 628.3,812.7 629.3,811.6 630.3,811.1 631.3,812.8 632.3,812.9 633.3,812.3 634.3,811.5 635.3,812.2 636.3,811.9 637.3,812.5 638.3,810.7 639.3,811.8 640.3,811.4 641.3,810.6 642.3,811.5 643.3,811.2 644.3,810.7 645.3,811.2 646.3,809.5 647.3,810.3 648.3,810.4 649.3,809.8 650.3,809.9 651.3,807.4 652.3,806.3 653.3,806.4 654.3,804.5 655.3,802.2 656.3,793.9 657.3,778.9 658.3,755.5 659.3,714.7 660.3,658.6 661.3,594.0 662.3,542.4 663.3,566.3 664.3,627.1 665.3,679.8 666.3,711.8 667.3,730.8 668.3,746.1 669.3,764.5 670.3,780.3 671.3,788.9 672.3,793.8 673.3,797.8 674.3,800.9 675.3,802.8 676.3,806.6 677.3,807.5 678.3,808.7 679.3,809.5 680.3,810.8 681.3,810.9 682.3,811.4 683.3,810.2 684.3,811.8 685.3,813.3 686.3,811.3 687.3,811.8 688.3,812.7 689.3,812.8 690.3,812.7 691.3,811.0 692.3,812.7 693.3,811.4 694.3,811.8 695.3,812.9 696.3,812.3 697.3,813.2 698.3,815.1 699.3,813.3 700.3,813.3 701.3,812.0 702.3,812.2 703.3,811.9 704.3,812.4 705.3,812.0 706.3,812.3 707.3,812.7 708.3,812.1 709.3,811.8 710.3,811.9 711.3,813.3 712.3,813.0 713.3,813.8 714.3,813.9 715.3,812.8 716.3,813.6 717.3,811.9 718.3,814.9 719.3,814.1 720.3,812.9 721.3,812.2 722.3,813.5 723.3,811.7 724.3,812.5 725.3,813.8 726.3,813.3 727.3,812.8 728.3,814.0 729.3,812.4 730.3,813.5 731.3,812.9 732.3,812.6 733.3,813.6 734.3,812.5 735.3,814.8 736.3,812.8 737.3,814.9 738.3,812.4 739.3,813.8 740.3,812.4 741.3,812.3 742.3,813.5 743.3,813.9 744.3,812.4 745.3,814.3 746.3,812.8 747.3,813.5 748.3,813.7 749.3,813.9 750.3,812.0 751.3,814.7 752.3,813.9 753.3,813.1 754.3,812.6 755.3,812.1 756.3,812.4 757.3,813.9 758.3,813.2 759.3,812.6 760.3,813.1 761.3,814.7 762.3,813.2 763.3,813.0 764.3,814.6 765.3,813.9 766.3,813.6 767.3,813.0 768.3,812.3 769.3,812.6 770.3,813.1 771.3,813.4 772.3,813.8 773.3,814.0 774.3,813.7 775.3,813.7 776.3,812.7 777.3,811.8 778.3,813.1 779.3,812.8 780.3,813.0 781.3,813.3 782.3,812.6 783.3,812.7 784.3,813.5 785.3,813.7 786.3,813.0 787.3,814.0 788.3,813.4 789.3,812.8 790.3,813.6 791.3,815.1 792.3,813.0 793.3,814.5 794.3,814.6 795.3,814.7 796.3,812.9 797.3,815.1 798.3,813.6 799.3,813.3 800.3,813.3 801.3,813.9 802.3,813.4 803.3,813.2 804.3,814.3 805.3,812.6 806.3,812.2 807.3,813.6 808.3,813.3 809.3,813.4 810.3,811.4 811.3,812.7 812.3,811.7 813.3,812.0 814.3,808.7 815.3,808.7 816.3,806.9 817.3,804.2 818.3,802.8 819.3,801.8 820.3,797.4 821.3,793.3 822.3,789.2 823.3,781.9 824.3,771.8 825.3,759.7 826.3,756.4 827.3,762.4 828.3,768.0 829.3,771.7 830.3,773.0 831.3,769.9 832.3,758.4 833.3,740.3 834.3,730.3 835.3,747.6 836.3,768.8 837.3,782.6 838.3,790.7 839.3,796.5 840.3,801.9 841.3,804.5 842.3,807.9 843.3,809.2 844.3,813.2 845.3,812.5 846.3,811.8 847.3,812.0 848.3,812.7 849.3,812.0 850.3,812.9 851.3,813.0 852.3,814.4 853.3,813.4 854.3,813.2 855.3,812.8 856.3,813.0 857.3,814.0 858.3,813.9 859.3,815.0 860.3,813.7 861.3,815.0 862.3,814.4 863.3,814.3 864.3,812.7 865.3,813.3 866.3,814.9 867.3,815.4 868.3,814.5 869.3,814.9 870.3,813.9 871.3,813.8 872.3,813.4 873.3,814.4 874.3,813.5 875.3,812.4 876.3,811.5 877.3,811.0 878.3,809.3 879.3,806.2 880.3,804.9 881.3,798.3 882.3,793.0 883.3,797.3 884.3,802.9 885.3,806.0 886.3,809.0 887.3,809.4 888.3,811.1 889.3,810.8 890.3,814.3 891.3,812.3 892.3,814.8 893.3,813.8 894.3,813.8 895.3,814.6 896.3,815.0 897.3,815.4 898.3,816.3 899.3,815.2 900.3,815.7 901.3,814.5 902.3,815.6 903.3,815.2 904.3,814.7 905.3,815.1 906.3,815.1 907.3,815.3 908.3,815.5 909.3,814.8 910.3,814.6 911.3,815.8 912.3,813.9 913.3,814.8 914.3,816.5 915.3,813.2 916.3,814.8 917.3,815.9 918.3,814.0 919.3,817.5 920.3,813.3 921.3,816.5 922.3,816.7 923.3,816.1 924.3,815.2 925.3,815.7 926.3,814.7 927.3,816.1 928.3,814.5 929.3,815.2 930.3,816.2 931.3,814.6 932.3,815.2 933.3,815.6 934.3,814.4 935.3,816.4 936.3,815.7 937.3,814.3 938.3,815.4 939.3,814.9 940.3,815.0 941.3,815.6 942.3,814.9 943.3,816.3 944.3,814.9 945.3,816.3 946.3,815.5 947.3,816.2 948.3,815.1 949.3,815.1 950.3,814.6 951.3,816.0 952.3,816.3 953.3,817.2 954.3,816.6 955.3,815.7 956.3,815.4 957.3,815.9 958.3,815.5 959.3,816.7 960.3,816.3 961.3,814.9 962.3,815.0 963.3,816.7 964.3,815.8 965.3,815.4 966.3,816.5 967.3,815.3 968.3,815.4 969.3,815.2 970.3,814.0 971.3,816.3 972.3,814.6 973.3,815.1 974.3,815.0 975.3,816.2 976.3,815.5 977.3,815.6 978.3,814.3 979.3,815.5 980.3,814.4 981.3,815.9 982.3,815.9 983.3,815.6 984.3,817.3 985.3,816.1 986.3,816.1 987.3,815.7 988.3,815.5 989.3,816.4 990.3,816.5 991.3,814.6 992.3,816.5 993.3,816.1 994.3,816.4 995.3,816.0 996.3,814.7 997.3,814.7 998.3,817.1 999.3,815.9 1000.3,814.5 1001.3,815.9 1002.3,815.4 1003.3,814.2 1004.3,813.8 1005.3,814.4 1006.3,815.9 1007.3,815.6 1008.3,815.5 1009.3,815.9 1010.3,816.2 1011.3,814.0 1012.3,815.5 1013.3,815.0 1014.3,814.7 1015.3,815.3 1016.3,815.6 1017.3,815.5 1018.3,814.5 1019.3,815.3 1020.3,817.3 1021.3,814.9 1022.3,814.4 1023.3,815.9 1024.3,816.2 1025.3,816.1 1026.3,814.8 1027.3,816.5 1028.3,815.1 1029.3,814.8 1030.3,815.2 1031.3,815.6 1032.3,816.3 1033.3,816.2 1034.3,815.7 1035.3,816.5 1036.3,815.8 1037.3,816.4 1038.3,814.6 1039.3,814.4 1040.3,816.3 1041.3,814.6 1042.3,815.4 1043.3,815.6 1044.3,815.3 1045.3,815.3 1046.3,816.7 1047.3,813.6 1048.3,816.3 1049.3,817.3 1050.3,815.5 1051.3,815.3 1052.3,815.9 1053.3,816.6 1054.3,814.1 1055.3,814.9 1056.3,814.5 1057.3,814.9 1058.3,814.3 1059.3,814.4 1060.3,813.2 1061.3,813.0 1062.3,811.8 1063.3,811.0 1064.3,810.5 1065.3,809.9 1066.3,809.1 1067.3,811.8 1068.3,811.0 1069.3,810.3 1070.3,812.4 1071.3,810.9 1072.3,811.6 1073.3,810.6 1074.3,810.1 1075.3,809.3 1076.3,808.4 1077.3,809.4 1078.3,811.9 1079.3,809.1 1080.3,811.4 1081.3,811.7 1082.3,810.3 1083.3,809.4 1084.3,811.0 1085.3,806.9 1086.3,806.6 1087.3,806.8 1088.3,809.3 1089.3,811.6 1090.3,813.0 1091.3,814.3 1092.3,814.4 1093.3,814.7 1094.3,815.1 1095.3,816.3 1096.3,816.0 1097.3,814.7 1098.3,815.1 1099.3,815.9 1100.3,815.2 1101.3,815.5 1102.3,815.0 1103.3,815.6 1104.3,816.2 1105.3,816.6 1106.3,815.9 1107.3,817.5 1108.3,815.8 1109.3,818.4 1110.3,816.7 1111.3,816.3 1112.3,815.5 1113.3,813.7 1114.3,815.8 1115.3,816.1 1116.3,817.5 1117.3,814.8 1118.3,817.5 1119.3,815.8 1120.3,816.5 1121.3,813.9 1122.3,816.1 1123.3,815.7 1124.3,816.5 1125.3,816.1 1126.3,815.1 1127.3,816.8 1128.3,816.6 1129.3,816.5 1130.3,816.8 1131.3,816.9 1132.3,816.0 1133.3,814.9 1134.3,814.9 1135.3,817.1 1136.3,816.6 1137.3,816.1 1138.3,815.7 1139.3,816.1 1140.3,816.1 1141.3,815.8 1142.3,815.5 1143.3,817.8 1144.3,816.2 1145.3,815.6 1146.3,815.0 1147.3,815.5 1148.3,816.7 1149.3,816.7 1150.3,815.9 1151.3,816.1 1152.3,815.8 1153.3,815.2 1154.3,817.1 1155.3,816.4 1156.3,818.1 1157.3,815.5 1158.3,816.0 1159.3,816.8 1160.3,815.9 1161.3,815.0 1162.3,815.4 1163.3,816.2 1164.3,816.4 1165.3,816.1 1166.3,816.9 1167.3,816.9 1168.3,816.4 1169.3,816.2 1170.3,815.9 1171.3,816.6 1172.3,816.9 1173.3,816.2 1174.3,816.5 1175.3,815.9 1176.3,815.0 1177.3,815.4 1178.3,816.8 1179.3,816.5 1180.3,817.4 1181.3,816.2 1182.3,816.9 1183.3,817.2 1184.3,817.0" fill="none" stroke="#000000" stroke-width="5" stroke-linejoin="round"/>
<polyline points="131.3,671.0 132.3,671.4 133.3,671.8 134.3,671.0 135.3,672.2 136.3,672.7 137.3,671.6 138.3,673.7 139.3,672.0 140.3,672.1 141.3,672.2 142.3,671.9 143.3,672.9 144.3,672.6 145.3,674.0 146.3,673.3 147.3,673.3 148.3,672.8 149.3,671.9 150.3,673.1 151.3,672.5 152.3,674.1 153.3,673.4 154.3,674.8 155.3,674.2 156.3,674.3 157.3,673.9 158.3,674.0 159.3,674.4 160.3,674.7 161.3,673.5 162.3,674.6 163.3,676.4 164.3,674.3 165.3,674.2 166.3,674.0 167.3,673.5 168.3,675.6 169.3,674.8 170.3,675.1 171.3,676.4 172.3,677.0 173.3,674.4 174.3,676.1 175.3,675.8 176.3,675.7 177.3,675.9 178.3,675.5 179.3,676.9 180.3,676.2 181.3,676.1 182.3,676.9 183.3,676.7 184.3,676.4 185.3,676.4 186.3,677.7 187.3,676.7 188.3,676.3 189.3,675.8 190.3,676.3 191.3,675.8 192.3,676.9 193.3,677.1 194.3,675.3 195.3,677.0 196.3,677.6 197.3,677.3 198.3,676.5 199.3,678.4 200.3,676.9 201.3,676.5 202.3,676.7 203.3,677.7 204.3,678.5 205.3,678.8 206.3,678.1 207.3,677.0 208.3,677.5 209.3,677.4 210.3,678.1 211.3,676.9 212.3,678.5 213.3,679.0 214.3,678.4 215.3,679.0 216.3,677.9 217.3,677.6 218.3,678.3 219.3,679.8 220.3,679.8 221.3,678.7 222.3,680.1 223.3,678.9 224.3,680.5 225.3,679.7 226.3,679.1 227.3,680.1 228.3,678.9 229.3,678.9 230.3,678.6 231.3,680.0 232.3,679.8 233.3,679.9 234.3,679.7 235.3,681.2 236.3,679.8 237.3,679.7 238.3,681.3 239.3,681.5 240.3,680.7 241.3,679.1 242.3,680.1 243.3,681.2 244.3,680.8 245.3,682.1 246.3,679.8 247.3,681.5 248.3,680.5 249.3,682.2 250.3,681.1 251.3,682.1 252.3,680.8 253.3,680.2 254.3,680.6 255.3,681.0 256.3,680.8 257.3,682.6 258.3,682.8 259.3,682.0 260.3,681.0 261.3,681.8 262.3,681.4 263.3,683.2 264.3,682.3 265.3,682.5 266.3,681.9 267.3,680.7 268.3,681.7 269.3,681.5 270.3,682.7 271.3,682.6 272.3,681.9 273.3,682.3 274.3,683.9 275.3,681.9 276.3,682.0 277.3,682.6 278.3,682.2 279.3,682.4 280.3,683.2 281.3,684.2 282.3,681.4 283.3,682.8 284.3,682.9 285.3,682.7 286.3,682.6 287.3,682.4 288.3,683.5 289.3,682.2 290.3,682.4 291.3,682.3 292.3,682.3 293.3,681.8 294.3,682.5 295.3,681.4 296.3,681.1 297.3,680.4 298.3,678.9 299.3,678.2 300.3,676.8 301.3,676.1 302.3,672.7 303.3,667.9 304.3,660.1 305.3,643.2 306.3,610.2 307.3,563.1 308.3,492.3 309.3,413.6 310.3,365.2 311.3,392.4 312.3,467.5 313.3,544.1 314.3,598.0 315.3,635.6 316.3,657.4 317.3,666.9 318.3,673.4 319.3,677.1 320.3,680.8 321.3,679.6 322.3,681.5 323.3,683.0 324.3,683.3 325.3,682.9 326.3,684.7 327.3,684.9 328.3,685.6 329.3,686.5 330.3,686.7 331.3,686.5 332.3,686.6 333.3,685.7 334.3,686.7 335.3,687.1 336.3,686.8 337.3,687.4 338.3,686.8 339.3,688.8 340.3,689.4 341.3,687.5 342.3,688.3 343.3,687.9 344.3,689.2 345.3,688.7 346.3,688.5 347.3,688.3 348.3,688.7 349.3,687.9 350.3,689.3 351.3,688.3 352.3,689.4 353.3,689.2 354.3,690.0 355.3,689.2 356.3,690.1 357.3,688.7 358.3,690.0 359.3,689.4 360.3,689.8 361.3,689.8 362.3,690.5 363.3,688.2 364.3,690.2 365.3,688.8 366.3,691.0 367.3,688.5 368.3,689.4 369.3,688.9 370.3,691.6 371.3,689.3 372.3,690.5 373.3,690.0 374.3,689.0 375.3,690.2 376.3,691.0 377.3,690.4 378.3,691.3 379.3,690.2 380.3,690.3 381.3,689.8 382.3,690.0 383.3,690.6 384.3,688.5 385.3,687.0 386.3,684.6 387.3,682.0 388.3,680.4 389.3,673.6 390.3,666.3 391.3,655.3 392.3,645.6 393.3,653.7 394.3,659.2 395.3,665.6 396.3,666.0 397.3,660.7 398.3,655.4 399.3,660.3 400.3,671.2 401.3,676.2 402.3,680.1 403.3,685.2 404.3,687.9 405.3,688.0 406.3,687.8 407.3,691.6 408.3,690.9 409.3,692.4 410.3,691.7 411.3,691.7 412.3,691.8 413.3,693.4 414.3,693.5 415.3,690.7 416.3,691.8 417.3,694.0 418.3,692.4 419.3,691.6 420.3,692.8 421.3,692.7 422.3,692.8 423.3,692.5 424.3,692.7 425.3,692.7 426.3,693.3 427.3,692.5 428.3,692.9 429.3,693.1 430.3,694.3 431.3,693.6 432.3,693.2 433.3,693.8 434.3,693.7 435.3,694.3 436.3,693.9 437.3,694.9 438.3,694.6 439.3,693.5 440.3,693.3 441.3,694.4 442.3,694.1 443.3,693.6 444.3,692.6 445.3,692.3 446.3,694.1 447.3,694.5 448.3,694.5 449.3,692.9 450.3,694.8 451.3,693.6 452.3,694.3 453.3,694.4 454.3,693.4 455.3,693.7 456.3,692.5 457.3,693.5 458.3,692.8 459.3,694.6 460.3,694.3 461.3,695.1 462.3,694.6 463.3,693.9 464.3,694.7 465.3,694.1 466.3,695.0 467.3,694.8 468.3,693.8 469.3,694.6 470.3,694.7 471.3,694.4 472.3,695.4 473.3,696.1 474.3,694.5 475.3,694.5 476.3,693.0 477.3,694.7 478.3,694.5 479.3,693.2 480.3,695.2 481.3,695.4 482.3,694.4 483.3,694.7 484.3,694.3 485.3,695.7 486.3,693.9 487.3,694.9 488.3,696.8 489.3,695.3 490.3,695.6 491.3,695.2 492.3,694.4 493.3,695.3 494.3,695.7 495.3,694.6 496.3,695.7 497.3,696.5 498.3,696.4 499.3,694.3 500.3,694.8 501.3,694.3 502.3,696.5 503.3,696.1 504.3,696.2 505.3,695.0 506.3,694.8 507.3,695.8 508.3,695.8 509.3,695.1 510.3,695.9 511.3,696.3 512.3,696.0 513.3,695.0 514.3,694.2 515.3,695.7 516.3,696.1 517.3,695.7 518.3,695.6 519.3,695.4 520.3,696.6 521.3,695.9 522.3,696.1 523.3,695.2 524.3,695.4 525.3,695.9 526.3,694.9 527.3,694.5 528.3,695.1 529.3,695.9 530.3,694.6 531.3,694.8 532.3,693.3 533.3,693.9 534.3,693.7 535.3,694.9 536.3,696.8 537.3,696.1 538.3,696.6 539.3,696.7 540.3,696.3 541.3,696.2 542.3,696.5 543.3,697.0 544.3,696.9 545.3,696.9 546.3,696.7 547.3,696.0 548.3,696.4 549.3,695.9 550.3,697.5 551.3,695.0 552.3,696.5 553.3,698.7 554.3,696.5 555.3,695.9 556.3,696.8 557.3,697.9 558.3,696.7 559.3,697.4 560.3,697.0 561.3,696.6 562.3,699.5 563.3,697.0 564.3,696.6 565.3,696.6 566.3,697.3 567.3,697.4 568.3,697.7 569.3,697.2 570.3,696.0 571.3,697.6 572.3,696.9 573.3,696.9 574.3,696.0 575.3,696.8 576.3,696.7 577.3,697.2 578.3,696.1 579.3,697.3 580.3,697.4 581.3,696.4 582.3,696.9 583.3,696.7 584.3,698.1 585.3,695.4 586.3,697.2 587.3,696.1 588.3,697.1 589.3,698.1 590.3,697.0 591.3,697.6 592.3,696.8 593.3,699.1 594.3,698.3 595.3,698.4 596.3,696.5 597.3,696.7 598.3,698.4 599.3,697.4 600.3,697.4 601.3,697.9 602.3,696.6 603.3,698.3 604.3,697.7 605.3,698.0 606.3,697.1 607.3,698.1 608.3,697.1 609.3,698.5 610.3,698.6 611.3,698.5 612.3,698.1 613.3,698.2 614.3,695.6 615.3,698.4 616.3,697.5 617.3,697.8 618.3,697.5 619.3,696.7 620.3,697.3 621.3,698.3 622.3,698.9 623.3,697.3 624.3,697.1 625.3,698.9 626.3,697.1 627.3,699.4 628.3,697.8 629.3,697.0 630.3,698.5 631.3,699.1 632.3,696.6 633.3,698.9 634.3,697.4 635.3,698.8 636.3,697.3 637.3,696.3 638.3,697.9 639.3,698.2 640.3,699.1 641.3,698.7 642.3,697.7 643.3,696.9 644.3,696.5 645.3,696.5 646.3,695.9 647.3,696.1 648.3,694.0 649.3,695.8 650.3,695.1 651.3,696.5 652.3,694.2 653.3,691.6 654.3,689.7 655.3,682.9 656.3,673.2 657.3,654.4 658.3,629.4 659.3,590.3 660.3,542.0 661.3,505.5 662.3,516.5 663.3,558.8 664.3,599.0 665.3,627.4 666.3,644.9 667.3,651.5 668.3,652.9 669.3,657.5 670.3,667.3 671.3,677.1 672.3,680.8 673.3,686.1 674.3,688.3 675.3,691.0 676.3,693.5 677.3,694.0 678.3,695.2 679.3,694.7 680.3,695.6 681.3,697.1 682.3,698.2 683.3,698.4 684.3,699.3 685.3,697.9 686.3,697.9 687.3,698.7 688.3,698.0 689.3,698.0 690.3,697.3 691.3,699.0 692.3,697.4 693.3,698.7 694.3,697.2 695.3,699.3 696.3,697.6 697.3,699.2 698.3,697.3 699.3,698.2 700.3,699.5 701.3,698.0 702.3,698.7 703.3,698.3 704.3,696.9 705.3,699.0 706.3,699.1 707.3,697.9 708.3,699.3 709.3,698.2 710.3,698.0 711.3,698.9 712.3,698.3 713.3,700.7 714.3,697.7 715.3,699.5 716.3,699.7 717.3,697.4 718.3,697.6 719.3,699.4 720.3,698.6 721.3,699.3 722.3,699.9 723.3,698.8 724.3,698.2 725.3,696.9 726.3,699.3 727.3,698.4 728.3,699.4 729.3,699.3 730.3,698.0 731.3,700.5 732.3,700.0 733.3,699.9 734.3,698.2 735.3,698.9 736.3,698.8 737.3,698.9 738.3,698.3 739.3,699.6 740.3,699.4 741.3,699.6 742.3,698.9 743.3,700.3 744.3,699.5 745.3,697.1 746.3,698.8 747.3,699.3 748.3,700.1 749.3,699.1 750.3,699.2 751.3,698.9 752.3,699.9 753.3,699.0 754.3,698.9 755.3,698.8 756.3,699.9 757.3,699.0 758.3,698.1 759.3,700.0 760.3,698.9 761.3,699.8 762.3,699.8 763.3,700.5 764.3,700.3 765.3,699.1 766.3,699.4 767.3,698.5 768.3,700.9 769.3,699.9 770.3,700.7 771.3,699.3 772.3,697.9 773.3,700.8 774.3,699.7 775.3,699.7 776.3,699.6 777.3,700.1 778.3,700.0 779.3,698.3 780.3,700.5 781.3,699.2 782.3,699.2 783.3,701.0 784.3,700.3 785.3,699.3 786.3,698.1 787.3,699.7 788.3,700.0 789.3,699.5 790.3,698.6 791.3,698.9 792.3,698.5 793.3,699.7 794.3,700.2 795.3,700.3 796.3,698.9 797.3,699.6 798.3,699.9 799.3,699.0 800.3,699.3 801.3,701.0 802.3,699.5 803.3,700.0 804.3,698.9 805.3,699.2 806.3,697.7 807.3,699.0 808.3,699.9 809.3,700.5 810.3,699.7 811.3,699.1 812.3,698.3 813.3,697.3 814.3,697.0 815.3,696.6 816.3,694.0 817.3,693.3 818.3,688.9 819.3,684.4 820.3,679.8 821.3,672.2 822.3,661.7 823.3,646.3 824.3,625.7 825.3,631.2 826.3,651.5 827.3,664.3 828.3,669.7 829.3,674.4 830.3,674.4 831.3,672.3 832.3,667.6 833.3,655.7 834.3,640.2 835.3,637.5 836.3,654.8 837.3,668.5 838.3,677.6 839.3,684.5 840.3,689.1 841.3,691.9 842.3,694.7 843.3,695.1 844.3,696.4 845.3,697.7 846.3,697.8 847.3,698.0 848.3,700.0 849.3,698.7 850.3,698.2 851.3,699.4 852.3,700.6 853.3,699.2 854.3,700.2 855.3,698.9 856.3,698.9 857.3,698.8 858.3,699.2 859.3,700.8 860.3,698.5 861.3,700.7 862.3,698.6 863.3,699.2 864.3,700.0 865.3,699.8 866.3,699.5 867.3,697.9 868.3,699.4 869.3,698.1 870.3,700.7 871.3,698.2 872.3,698.1 873.3,696.5 874.3,696.3 875.3,694.8 876.3,695.5 877.3,693.1 878.3,691.8 879.3,687.8 880.3,684.3 881.3,683.8 882.3,684.4 883.3,687.4 884.3,692.0 885.3,692.7 886.3,694.6 887.3,696.8 888.3,696.2 889.3,698.3 890.3,697.5 891.3,699.7 892.3,699.9 893.3,698.7 894.3,699.1 895.3,698.7 896.3,699.7 897.3,700.5 898.3,698.5 899.3,700.4 900.3,698.6 901.3,699.0 902.3,698.3 903.3,701.4 904.3,699.8 905.3,700.0 906.3,699.3 907.3,700.7 908.3,698.1 909.3,699.8 910.3,701.6 911.3,699.5 912.3,699.9 913.3,700.4 914.3,699.2 915.3,699.9 916.3,700.6 917.3,700.0 918.3,700.2 919.3,699.6 920.3,700.1 921.3,699.9 922.3,701.1 923.3,700.5 924.3,699.7 925.3,698.0 926.3,700.5 927.3,700.5 928.3,699.2 929.3,698.3 930.3,699.0 931.3,700.7 932.3,699.1 933.3,699.6 934.3,700.1 935.3,700.9 936.3,699.9 937.3,699.9 938.3,699.5 939.3,701.3 940.3,700.8 941.3,699.9 942.3,698.8 943.3,699.3 944.3,700.4 945.3,699.4 946.3,700.7 947.3,700.3 948.3,700.2 949.3,700.5 950.3,700.4 951.3,699.3 952.3,699.7 953.3,701.9 954.3,699.0 955.3,699.6 956.3,700.8 957.3,699.9 958.3,699.3 959.3,698.9 960.3,700.4 961.3,700.8 962.3,701.1 963.3,700.0 964.3,700.8 965.3,699.2 966.3,700.1 967.3,699.5 968.3,700.2 969.3,700.6 970.3,700.9 971.3,699.2 972.3,701.0 973.3,699.6 974.3,699.2 975.3,699.9 976.3,698.9 977.3,700.0 978.3,700.3 979.3,699.9 980.3,700.5 981.3,699.8 982.3,700.0 983.3,698.9 984.3,700.1 985.3,699.4 986.3,699.7 987.3,700.0 988.3,700.2 989.3,698.7 990.3,698.8 991.3,699.8 992.3,700.4 993.3,700.3 994.3,700.8 995.3,701.1 996.3,700.5 997.3,700.0 998.3,699.2 999.3,699.3 1000.3,699.7 1001.3,700.3 1002.3,700.3 1003.3,700.1 1004.3,700.0 1005.3,700.6 1006.3,700.3 1007.3,700.4 1008.3,700.4 1009.3,699.7 1010.3,699.3 1011.3,700.6 1012.3,700.5 1013.3,700.0 1014.3,699.9 1015.3,702.0 1016.3,699.6 1017.3,700.1 1018.3,700.5 1019.3,699.3 1020.3,700.4 1021.3,701.7 1022.3,701.0 1023.3,700.8 1024.3,700.8 1025.3,700.4 1026.3,701.1 1027.3,700.2 1028.3,700.0 1029.3,700.4 1030.3,701.1 1031.3,700.6 1032.3,700.9 1033.3,698.8 1034.3,701.3 1035.3,702.3 1036.3,701.5 1037.3,700.1 1038.3,699.7 1039.3,700.6 1040.3,699.6 1041.3,701.0 1042.3,700.0 1043.3,701.2 1044.3,701.5 1045.3,698.8 1046.3,700.7 1047.3,699.9 1048.3,699.3 1049.3,699.9 1050.3,700.2 1051.3,701.2 1052.3,699.2 1053.3,701.2 1054.3,701.9 1055.3,700.7 1056.3,700.6 1057.3,700.0 1058.3,699.0 1059.3,700.2 1060.3,699.9 1061.3,699.9 1062.3,701.1 1063.3,699.3 1064.3,698.7 1065.3,699.2 1066.3,696.3 1067.3,695.8 1068.3,695.6 1069.3,694.2 1070.3,693.8 1071.3,691.4 1072.3,692.1 1073.3,692.4 1074.3,693.2 1075.3,693.8 1076.3,695.8 1077.3,696.8 1078.3,695.8 1079.3,697.3 1080.3,697.7 1081.3,697.2 1082.3,697.9 1083.3,696.9 1084.3,694.0 1085.3,692.6 1086.3,689.6 1087.3,692.1 1088.3,693.8 1089.3,697.2 1090.3,698.0 1091.3,699.4 1092.3,699.1 1093.3,698.6 1094.3,701.5 1095.3,700.2 1096.3,701.7 1097.3,701.0 1098.3,701.3 1099.3,702.3 1100.3,701.2 1101.3,702.1 1102.3,699.8 1103.3,701.7 1104.3,700.8 1105.3,700.9 1106.3,701.1 1107.3,701.4 1108.3,702.4 1109.3,699.6 1110.3,701.2 1111.3,700.6 1112.3,702.1 1113.3,700.8 1114.3,701.6 1115.3,700.9 1116.3,701.8 1117.3,702.1 1118.3,700.9 1119.3,701.3 1120.3,700.1 1121.3,701.5 1122.3,702.0 1123.3,700.9 1124.3,702.2 1125.3,699.7 1126.3,699.9 1127.3,700.3 1128.3,701.0 1129.3,701.4 1130.3,701.3 1131.3,701.4 1132.3,702.0 1133.3,701.1 1134.3,700.4 1135.3,700.5 1136.3,703.2 1137.3,699.6 1138.3,701.4 1139.3,702.7 1140.3,701.9 1141.3,700.9 1142.3,701.5 1143.3,702.2 1144.3,702.5 1145.3,700.9 1146.3,702.2 1147.3,701.8 1148.3,702.5 1149.3,702.7 1150.3,701.4 1151.3,700.5 1152.3,702.0 1153.3,703.1 1154.3,702.2 1155.3,701.9 1156.3,703.6 1157.3,700.9 1158.3,702.4 1159.3,701.3 1160.3,701.8 1161.3,701.8 1162.3,703.0 1163.3,701.0 1164.3,701.3 1165.3,700.5 1166.3,702.2 1167.3,701.4 1168.3,702.2 1169.3,701.0 1170.3,701.6 1171.3,702.7 1172.3,701.7 1173.3,702.4 1174.3,702.3 1175.3,701.6 1176.3,700.7 1177.3,702.7 1178.3,702.1 1179.3,702.7 1180.3,700.3 1181.3,700.6 1182.3,700.3 1183.3,701.3 1184.3,702.8" fill="none" stroke="#FF0000" stroke-width="5" stroke-linejoin="round"/>
<polyline points="131.3,557.2 132.3,556.8 133.3,557.1 134.3,557.7 135.3,556.9 136.3,557.5 137.3,557.4 138.3,555.6 139.3,557.2 140.3,558.6 141.3,557.3 142.3,557.6 143.3,557.3 144.3,557.5 145.3,558.9 146.3,557.9 147.3,557.3 148.3,555.7 149.3,557.9 150.3,556.8 151.3,557.0 152.3,559.2 153.3,559.2 154.3,557.2 155.3,559.5 156.3,559.3 157.3,558.4 158.3,559.7 159.3,557.9 160.3,558.3 161.3,558.2 162.3,558.5 163.3,560.2 164.3,558.5 165.3,558.8 166.3,559.0 167.3,560.0 168.3,559.7 169.3,560.7 170.3,559.5 171.3,559.2 172.3,559.9 173.3,560.4 174.3,559.7 175.3,560.7 176.3,562.1 177.3,560.2 178.3,560.8 179.3,561.9 180.3,560.4 181.3,560.3 182.3,560.2 183.3,561.5 184.3,561.7 185.3,561.2 186.3,561.5 187.3,562.5 188.3,562.3 189.3,560.6 190.3,561.8 191.3,561.9 192.3,562.5 193.3,561.9 194.3,561.6 195.3,561.8 196.3,560.9 197.3,562.3 198.3,562.0 199.3,562.9 200.3,561.8 201.3,562.3 202.3,562.0 203.3,562.0 204.3,563.5 205.3,562.6 206.3,563.4 207.3,562.2 208.3,563.3 209.3,561.9 210.3,563.0 211.3,563.0 212.3,564.0 213.3,563.7 214.3,563.5 215.3,564.4 216.3,563.9 217.3,564.3 218.3,564.5 219.3,563.9 220.3,563.8 221.3,564.4 222.3,563.9 223.3,564.6 224.3,565.2 225.3,565.1 226.3,564.2 227.3,563.5 228.3,564.6 229.3,564.6 230.3,565.7 231.3,564.6 232.3,564.8 233.3,565.6 234.3,564.7 235.3,565.0 236.3,566.6 237.3,566.5 238.3,565.9 239.3,565.6 240.3,564.7 241.3,566.0 242.3,565.7 243.3,565.9 244.3,565.4 245.3,565.8 246.3,565.8 247.3,566.2 248.3,567.2 249.3,566.4 250.3,564.9 251.3,565.5 252.3,565.1 253.3,565.8 254.3,566.9 255.3,566.8 256.3,566.1 257.3,566.9 258.3,566.1 259.3,565.6 260.3,565.7 261.3,566.2 262.3,568.1 263.3,565.9 264.3,568.1 265.3,568.2 266.3,567.0 267.3,567.2 268.3,566.8 269.3,567.3 270.3,567.9 271.3,567.4 272.3,568.3 273.3,568.5 274.3,567.8 275.3,567.8 276.3,567.6 277.3,567.9 278.3,566.8 279.3,568.0 280.3,567.9 281.3,567.0 282.3,569.4 283.3,566.9 284.3,567.0 285.3,567.9 286.3,566.1 287.3,566.9 288.3,566.3 289.3,566.6 290.3,567.2 291.3,567.4 292.3,567.8 293.3,567.4 294.3,567.4 295.3,566.6 296.3,565.3 297.3,566.1 298.3,564.2 299.3,563.2 300.3,563.9 301.3,561.8 302.3,559.4 303.3,556.6 304.3,551.2 305.3,538.8 306.3,519.9 307.3,484.2 308.3,430.9 309.3,356.6 310.3,275.6 311.3,221.3 312.3,244.6 313.3,322.7 314.3,401.7 315.3,465.6 316.3,508.7 317.3,534.1 318.3,546.3 319.3,555.0 320.3,559.7 321.3,562.1 322.3,564.6 323.3,564.0 324.3,566.5 325.3,566.4 326.3,567.8 327.3,568.5 328.3,569.3 329.3,568.7 330.3,569.7 331.3,569.0 332.3,569.1 333.3,570.9 334.3,570.7 335.3,569.6 336.3,570.4 337.3,571.3 338.3,572.7 339.3,572.5 340.3,572.4 341.3,570.5 342.3,572.0 343.3,572.6 344.3,572.6 345.3,572.7 346.3,572.2 347.3,573.8 348.3,573.6 349.3,572.3 350.3,571.4 351.3,573.6 352.3,571.1 353.3,571.8 354.3,572.0 355.3,570.4 356.3,572.2 357.3,572.3 358.3,573.4 359.3,573.5 360.3,575.1 361.3,574.2 362.3,573.9 363.3,574.9 364.3,573.9 365.3,573.9 366.3,576.1 367.3,573.7 368.3,574.1 369.3,574.5 370.3,573.7 371.3,572.9 372.3,575.5 373.3,574.1 374.3,574.3 375.3,574.4 376.3,573.9 377.3,573.8 378.3,574.7 379.3,576.4 380.3,574.7 381.3,574.3 382.3,571.7 383.3,571.8 384.3,569.2 385.3,568.4 386.3,564.5 387.3,560.5 388.3,554.4 389.3,544.5 390.3,528.9 391.3,520.0 392.3,528.6 393.3,541.8 394.3,549.8 395.3,553.0 396.3,554.7 397.3,553.4 398.3,547.2 399.3,542.7 400.3,549.5 401.3,559.2 402.3,562.8 403.3,568.4 404.3,570.0 405.3,571.7 406.3,574.2 407.3,575.1 408.3,576.7 409.3,577.7 410.3,575.3 411.3,577.4 412.3,579.2 413.3,578.5 414.3,579.1 415.3,578.1 416.3,576.9 417.3,577.3 418.3,578.8 419.3,579.1 420.3,577.8 421.3,578.2 422.3,578.7 423.3,577.1 424.3,578.3 425.3,579.9 426.3,580.4 427.3,578.6 428.3,580.2 429.3,578.3 430.3,578.2 431.3,577.1 432.3,579.6 433.3,578.6 434.3,580.8 435.3,579.3 436.3,579.2 437.3,577.6 438.3,580.3 439.3,578.8 440.3,579.0 441.3,577.4 442.3,580.0 443.3,580.1 444.3,578.8 445.3,579.4 446.3,579.7 447.3,580.2 448.3,579.5 449.3,580.8 450.3,579.3 451.3,579.0 452.3,579.2 453.3,577.6 454.3,579.0 455.3,580.5 456.3,579.9 457.3,579.1 458.3,580.0 459.3,578.2 460.3,579.6 461.3,580.3 462.3,580.4 463.3,579.3 464.3,580.7 465.3,581.5 466.3,579.7 467.3,580.6 468.3,578.8 469.3,578.5 470.3,580.6 471.3,580.2 472.3,580.3 473.3,579.7 474.3,580.0 475.3,580.9 476.3,581.7 477.3,580.2 478.3,579.0 479.3,581.4 480.3,580.9 481.3,581.0 482.3,580.6 483.3,582.4 484.3,580.6 485.3,581.0 486.3,579.1 487.3,580.2 488.3,580.1 489.3,580.7 490.3,581.0 491.3,580.2 492.3,582.2 493.3,580.0 494.3,580.5 495.3,581.1 496.3,579.9 497.3,581.4 498.3,581.5 499.3,580.8 500.3,582.5 501.3,581.1 502.3,581.3 503.3,580.3 504.3,579.8 505.3,580.7 506.3,580.9 507.3,580.9 508.3,581.9 509.3,579.4 510.3,580.4 511.3,579.9 512.3,582.4 513.3,580.9 514.3,581.0 515.3,580.6 516.3,582.2 517.3,581.2 518.3,581.7 519.3,579.9 520.3,582.5 521.3,581.8 522.3,582.0 523.3,582.5 524.3,581.3 525.3,581.2 526.3,581.7 527.3,581.3 528.3,580.5 529.3,580.2 530.3,579.1 531.3,579.0 532.3,578.8 533.3,579.0 534.3,581.5 535.3,579.4 536.3,580.8 537.3,582.7 538.3,581.2 539.3,580.4 540.3,582.9 541.3,582.3 542.3,581.0 543.3,582.6 544.3,581.2 545.3,581.0 546.3,582.0 547.3,581.8 548.3,581.3 549.3,581.9 550.3,581.4 551.3,582.3 552.3,582.2 553.3,582.9 554.3,581.9 555.3,581.2 556.3,581.2 557.3,582.1 558.3,583.6 559.3,583.0 560.3,581.9 561.3,583.1 562.3,581.5 563.3,583.2 564.3,582.1 565.3,583.1 566.3,583.0 567.3,582.3 568.3,582.8 569.3,581.7 570.3,582.5 571.3,583.4 572.3,585.9 573.3,583.1 574.3,582.7 575.3,581.8 576.3,583.5 577.3,581.3 578.3,582.0 579.3,583.0 580.3,581.7 581.3,583.9 582.3,583.6 583.3,582.3 584.3,582.3 585.3,581.7 586.3,581.7 587.3,583.1 588.3,583.3 589.3,583.1 590.3,583.1 591.3,582.4 592.3,583.2 593.3,581.7 594.3,582.9 595.3,584.1 596.3,584.0 597.3,582.6 598.3,582.7 599.3,584.1 600.3,584.4 601.3,581.8 602.3,582.7 603.3,583.2 604.3,584.0 605.3,582.4 606.3,583.6 607.3,582.8 608.3,585.0 609.3,583.4 610.3,583.0 611.3,582.8 612.3,584.0 613.3,583.7 614.3,582.3 615.3,583.3 616.3,582.1 617.3,582.5 618.3,582.1 619.3,582.1 620.3,582.6 621.3,582.4 622.3,583.6 623.3,583.8 624.3,583.0 625.3,582.3 626.3,583.8 627.3,581.6 628.3,581.6 629.3,583.8 630.3,583.7 631.3,583.9 632.3,583.0 633.3,582.1 634.3,582.7 635.3,583.6 636.3,582.5 637.3,582.5 638.3,581.9 639.3,582.0 640.3,583.6 641.3,583.2 642.3,581.8 643.3,581.8 644.3,582.1 645.3,582.9 646.3,581.3 647.3,581.9 648.3,580.1 649.3,580.5 650.3,581.5 651.3,581.3 652.3,578.8 653.3,577.7 654.3,576.4 655.3,570.6 656.3,562.0 657.3,549.3 658.3,529.4 659.3,504.3 660.3,473.8 661.3,449.8 662.3,456.2 663.3,482.8 664.3,508.3 665.3,529.2 666.3,544.5 667.3,549.3 668.3,551.9 669.3,546.1 670.3,538.8 671.3,541.7 672.3,552.0 673.3,561.4 674.3,566.0 675.3,570.2 676.3,573.3 677.3,577.4 678.3,578.5 679.3,578.5 680.3,580.2 681.3,580.7 682.3,582.0 683.3,582.6 684.3,584.6 685.3,581.6 686.3,584.1 687.3,583.8 688.3,583.0 689.3,583.5 690.3,583.3 691.3,583.8 692.3,584.7 693.3,582.7 694.3,585.0 695.3,583.7 696.3,585.3 697.3,584.4 698.3,585.1 699.3,584.6 700.3,585.1 701.3,584.3 702.3,583.6 703.3,584.9 704.3,584.9 705.3,586.1 706.3,582.8 707.3,584.3 708.3,585.3 709.3,583.5 710.3,584.3 711.3,586.2 712.3,585.7 713.3,583.9 714.3,585.8 715.3,585.6 716.3,585.3 717.3,585.0 718.3,584.9 719.3,584.0 720.3,584.3 721.3,585.3 722.3,584.9 723.3,586.3 724.3,584.5 725.3,582.9 726.3,584.6 727.3,585.1 728.3,585.2 729.3,584.9 730.3,584.3 731.3,586.1 732.3,584.4 733.3,585.5 734.3,584.7 735.3,584.0 736.3,586.1 737.3,583.0 738.3,584.4 739.3,585.4 740.3,584.8 741.3,585.7 742.3,585.0 743.3,584.8 744.3,586.9 745.3,585.0 746.3,585.0 747.3,584.3 748.3,584.6 749.3,585.7 750.3,585.7 751.3,585.2 752.3,584.7 753.3,585.8 754.3,583.9 755.3,585.0 756.3,585.1 757.3,584.6 758.3,585.5 759.3,584.8 760.3,584.7 761.3,586.8 762.3,586.0 763.3,586.4 764.3,585.5 765.3,586.2 766.3,586.1 767.3,586.4 768.3,587.4 769.3,585.3 770.3,585.7 771.3,585.5 772.3,582.7 773.3,584.4 774.3,585.5 775.3,586.0 776.3,585.1 777.3,586.5 778.3,586.6 779.3,585.2 780.3,586.7 781.3,587.0 782.3,585.9 783.3,584.8 784.3,586.7 785.3,585.4 786.3,585.2 787.3,585.6 788.3,585.1 789.3,586.4 790.3,586.1 791.3,586.5 792.3,585.9 793.3,584.8 794.3,585.3 795.3,586.1 796.3,585.1 797.3,587.7 798.3,585.1 799.3,584.8 800.3,586.2 801.3,585.8 802.3,585.1 803.3,584.9 804.3,585.4 805.3,585.6 806.3,585.4 807.3,584.5 808.3,584.9 809.3,584.9 810.3,584.5 811.3,580.9 812.3,581.8 813.3,580.6 814.3,579.1 815.3,576.7 816.3,573.6 817.3,568.4 818.3,561.2 819.3,552.1 820.3,539.0 821.3,514.3 822.3,497.3 823.3,514.1 824.3,536.0 825.3,548.5 826.3,559.2 827.3,564.3 828.3,568.1 829.3,570.7 830.3,570.2 831.3,567.9 832.3,565.2 833.3,558.5 834.3,547.3 835.3,531.2 836.3,526.2 837.3,541.2 838.3,555.2 839.3,564.3 840.3,569.3 841.3,573.2 842.3,578.4 843.3,579.6 844.3,581.5 845.3,582.6 846.3,583.5 847.3,584.0 848.3,584.4 849.3,583.9 850.3,585.5 851.3,584.3 852.3,585.7 853.3,583.4 854.3,584.1 855.3,585.8 856.3,584.9 857.3,584.4 858.3,585.2 859.3,584.0 860.3,584.8 861.3,582.9 862.3,584.1 863.3,583.7 864.3,584.5 865.3,584.4 866.3,582.7 867.3,584.2 868.3,581.9 869.3,580.1 870.3,579.0 871.3,581.0 872.3,578.2 873.3,576.0 874.3,574.3 875.3,573.4 876.3,575.7 877.3,575.3 878.3,577.1 879.3,575.2 880.3,572.5 881.3,573.2 882.3,570.1 883.3,569.6 884.3,573.1 885.3,574.6 886.3,578.2 887.3,579.0 888.3,579.8 889.3,581.8 890.3,581.8 891.3,583.9 892.3,584.3 893.3,584.0 894.3,584.9 895.3,585.1 896.3,584.7 897.3,585.8 898.3,585.1 899.3,585.9 900.3,584.7 901.3,585.6 902.3,585.9 903.3,585.0 904.3,585.3 905.3,585.2 906.3,586.3 907.3,585.1 908.3,586.1 909.3,587.0 910.3,586.0 911.3,584.5 912.3,585.9 913.3,586.6 914.3,585.6 915.3,586.7 916.3,586.3 917.3,586.2 918.3,585.6 919.3,585.4 920.3,585.6 921.3,585.9 922.3,586.3 923.3,586.2 924.3,585.6 925.3,585.9 926.3,586.2 927.3,584.6 928.3,585.3 929.3,585.3 930.3,585.7 931.3,585.7 932.3,585.7 933.3,585.2 934.3,586.4 935.3,586.1 936.3,584.6 937.3,585.9 938.3,585.0 939.3,587.3 940.3,585.6 941.3,585.6 942.3,586.0 943.3,585.8 944.3,585.9 945.3,587.2 946.3,586.1 947.3,586.6 948.3,586.9 949.3,585.2 950.3,587.3 951.3,586.5 952.3,586.7 953.3,585.3 954.3,586.6 955.3,586.3 956.3,585.5 957.3,587.8 958.3,586.4 959.3,585.8 960.3,586.1 961.3,586.7 962.3,586.9 963.3,586.5 964.3,587.0 965.3,587.2 966.3,585.0 967.3,585.6 968.3,585.2 969.3,586.1 970.3,587.2 971.3,586.5 972.3,585.2 973.3,585.8 974.3,586.8 975.3,585.6 976.3,585.9 977.3,586.3 978.3,584.6 979.3,586.6 980.3,586.3 981.3,586.5 982.3,585.2 983.3,585.4 984.3,585.5 985.3,586.2 986.3,586.1 987.3,586.1 988.3,587.5 989.3,587.1 990.3,585.5 991.3,585.5 992.3,587.4 993.3,585.8 994.3,587.1 995.3,587.3 996.3,585.6 997.3,585.8 998.3,586.1 999.3,585.4 1000.3,585.3 1001.3,585.7 1002.3,586.7 1003.3,585.7 1004.3,585.9 1005.3,585.7 1006.3,585.0 1007.3,587.2 1008.3,584.2 1009.3,585.5 1010.3,586.5 1011.3,584.9 1012.3,586.5 1013.3,587.1 1014.3,585.4 1015.3,586.2 1016.3,585.2 1017.3,586.5 1018.3,586.1 1019.3,586.2 1020.3,587.2 1021.3,586.4 1022.3,587.1 1023.3,586.6 1024.3,585.1 1025.3,586.3 1026.3,586.5 1027.3,584.9 1028.3,587.1 1029.3,586.1 1030.3,586.4 1031.3,585.3 1032.3,586.1 1033.3,586.3 1034.3,585.8 1035.3,586.1 1036.3,584.4 1037.3,587.1 1038.3,585.2 1039.3,584.3 1040.3,585.3 1041.3,585.4 1042.3,586.5 1043.3,585.3 1044.3,586.2 1045.3,585.2 1046.3,587.8 1047.3,586.4 1048.3,587.5 1049.3,585.1 1050.3,586.4 1051.3,585.1 1052.3,586.2 1053.3,586.2 1054.3,584.3 1055.3,584.5 1056.3,584.3 1057.3,583.8 1058.3,584.2 1059.3,583.7 1060.3,582.9 1061.3,583.6 1062.3,583.4 1063.3,581.1 1064.3,580.6 1065.3,579.5 1066.3,577.6 1067.3,576.5 1068.3,578.7 1069.3,580.4 1070.3,581.7 1071.3,582.0 1072.3,584.4 1073.3,584.7 1074.3,583.4 1075.3,583.9 1076.3,585.1 1077.3,583.5 1078.3,584.5 1079.3,584.0 1080.3,583.2 1081.3,583.2 1082.3,581.7 1083.3,581.9 1084.3,579.8 1085.3,581.8 1086.3,579.5 1087.3,578.1 1088.3,577.8 1089.3,580.0 1090.3,581.8 1091.3,582.8 1092.3,583.6 1093.3,582.8 1094.3,584.3 1095.3,584.0 1096.3,583.8 1097.3,584.1 1098.3,585.6 1099.3,586.3 1100.3,584.5 1101.3,587.1 1102.3,587.0 1103.3,585.6 1104.3,585.6 1105.3,585.9 1106.3,586.8 1107.3,585.7 1108.3,585.2 1109.3,586.3 1110.3,584.4 1111.3,586.2 1112.3,587.0 1113.3,586.4 1114.3,586.7 1115.3,586.5 1116.3,586.7 1117.3,586.3 1118.3,585.5 1119.3,586.0 1120.3,586.1 1121.3,587.2 1122.3,587.5 1123.3,586.5 1124.3,585.6 1125.3,585.6 1126.3,586.0 1127.3,587.3 1128.3,586.4 1129.3,586.1 1130.3,585.6 1131.3,586.9 1132.3,586.4 1133.3,586.2 1134.3,586.3 1135.3,587.5 1136.3,586.1 1137.3,587.6 1138.3,587.2 1139.3,586.3 1140.3,586.9 1141.3,586.1 1142.3,585.6 1143.3,586.0 1144.3,585.5 1145.3,586.6 1146.3,586.2 1147.3,586.7 1148.3,586.9 1149.3,583.7 1150.3,586.5 1151.3,584.8 1152.3,586.4 1153.3,585.5 1154.3,586.3 1155.3,587.3 1156.3,584.9 1157.3,586.4 1158.3,586.2 1159.3,584.7 1160.3,586.8 1161.3,586.3 1162.3,585.8 1163.3,585.7 1164.3,588.8 1165.3,585.9 1166.3,584.8 1167.3,585.5 1168.3,586.0 1169.3,586.0 1170.3,586.2 1171.3,585.4 1172.3,586.7 1173.3,585.9 1174.3,585.2 1175.3,585.6 1176.3,586.0 1177.3,587.0 1178.3,586.7 1179.3,586.0 1180.3,586.3 1181.3,586.5 1182.3,587.9 1183.3,585.8 1184.3,586.7" fill="none" stroke="#0000FF" stroke-width="5" stroke-linejoin="round"/>
<polyline points="1347.5,722.5 1351.0,721.2 1354.5,721.9 1358.0,721.8 1361.5,721.2 1365.0,721.9 1368.5,722.2 1372.0,722.1 1375.5,721.1 1379.0,721.3 1382.5,722.8 1386.0,720.1 1389.5,721.1 1393.0,721.5 1396.5,720.9 1400.0,721.2 1403.5,720.8 1407.0,721.1 1410.5,721.5 1414.0,720.3 1417.5,720.6 1421.0,720.3 1424.5,720.0 1428.0,720.3 1431.5,719.4 1435.0,720.8 1438.5,721.5 1442.0,721.4 1445.5,721.1 1449.0,719.4 1452.5,721.2 1456.0,719.5 1459.5,720.0 1463.0,721.4 1466.5,719.2 1470.0,720.6 1473.5,720.2 1477.0,719.9 1480.5,719.3 1484.0,720.3 1487.5,719.7 1491.0,720.8 1494.5,721.0 1498.0,719.1 1501.5,719.8 1505.0,719.9 1508.5,719.3 1512.0,719.4 1515.5,720.4 1519.0,720.2 1522.5,719.2 1526.0,720.1 1529.5,721.0 1533.0,719.8 1536.5,720.0 1540.0,722.0 1543.5,721.9 1547.0,719.8 1550.5,720.0 1554.0,721.4 1557.5,720.3 1561.0,721.1 1564.5,721.0 1568.0,721.9 1571.5,719.6 1575.0,719.9 1578.5,720.7 1582.0,722.5 1585.5,721.7 1589.0,720.6 1592.5,722.3 1596.0,722.5 1599.5,721.8 1603.0,721.8 1606.5,722.4 1610.0,723.0 1613.5,722.3 1617.0,722.6 1620.5,722.2 1624.0,722.0 1627.5,721.7 1631.0,722.6 1634.5,722.2 1638.0,722.3 1641.5,723.2 1645.0,723.0 1648.5,723.3 1652.0,721.5 1655.5,723.1 1659.0,722.3 1662.5,722.2 1666.0,722.2 1669.5,723.8 1673.0,723.5 1676.5,722.4 1680.0,722.1 1683.5,723.0 1687.0,722.6 1690.5,724.2 1694.0,721.9 1697.5,721.6 1701.0,722.8 1704.5,723.0 1708.0,723.1 1711.5,723.5 1715.0,724.5 1718.5,722.6 1722.0,722.4 1725.5,721.4 1729.0,722.8 1732.5,723.2 1736.0,722.3 1739.5,723.2 1743.0,722.2 1746.5,723.2 1750.0,722.2 1753.5,721.0 1757.0,721.2 1760.5,720.3 1764.0,720.0 1767.5,721.3 1771.0,721.6 1774.5,722.2 1778.0,720.5 1781.5,720.1 1785.0,719.2 1788.5,720.6 1792.0,719.9 1795.5,718.9 1799.0,719.6 1802.5,719.2 1806.0,717.0 1809.5,718.5 1813.0,717.4 1816.5,716.3 1820.0,715.5 1823.5,716.3 1827.0,715.1 1830.5,714.2 1834.0,710.4 1837.5,708.6 1841.0,707.1 1844.5,702.5 1848.0,699.5 1851.5,694.2 1855.0,691.4 1858.5,683.3 1862.0,672.7 1865.5,658.2 1869.0,634.9 1872.5,607.7 1876.0,576.2 1879.5,538.4 1883.0,497.6 1886.5,461.0 1890.0,430.1 1893.5,387.1 1897.0,328.4 1900.5,273.2 1904.0,219.3 1907.5,177.3 1911.0,146.8 1914.5,140.9 1918.0,184.4 1921.5,240.5 1925.0,311.6 1928.5,381.9 1932.0,451.4 1935.5,514.7 1939.0,572.0 1942.5,614.4 1946.0,636.9 1949.5,658.2 1953.0,673.3 1956.5,685.2 1960.0,689.9 1963.5,690.1 1967.0,693.9 1970.5,703.6 1974.0,706.8 1977.5,709.8 1981.0,712.3 1984.5,713.5 1988.0,715.4 1991.5,714.6 1995.0,717.5 1998.5,718.2 2002.0,718.3 2005.5,718.1 2009.0,719.9 2012.5,720.2 2016.0,721.7 2019.5,721.9 2023.0,723.1 2026.5,722.9 2030.0,724.8 2033.5,722.5 2037.0,724.0 2040.5,725.5 2044.0,724.4 2047.5,726.4 2051.0,725.1 2054.5,726.3 2058.0,725.8 2061.5,726.3 2065.0,727.0 2068.5,727.0 2072.0,727.0 2075.5,729.0 2079.0,727.6 2082.5,727.0 2086.0,728.6 2089.5,728.7 2093.0,729.1 2096.5,729.7 2100.0,727.8 2103.5,729.4 2107.0,729.6 2110.5,728.9 2114.0,729.2 2117.5,726.9 2121.0,728.8 2124.5,730.7 2128.0,728.1 2131.5,729.2 2135.0,729.9 2138.5,730.2 2142.0,731.1 2145.5,728.6 2149.0,730.0 2152.5,730.7 2156.0,729.2 2159.5,730.2 2163.0,731.7 2166.5,731.4 2170.0,730.9 2173.5,728.6 2177.0,730.5 2180.5,731.0 2184.0,730.5 2187.5,730.7 2191.0,733.2 2194.5,730.8 2198.0,730.2 2201.5,731.2 2205.0,730.8 2208.5,730.9 2212.0,731.1 2215.5,731.8 2219.0,731.5 2222.5,730.5 2226.0,731.3 2229.5,731.8 2233.0,731.2 2236.5,732.4 2240.0,732.2 2243.5,730.9 2247.0,732.0 2250.5,733.3 2254.0,733.0 2257.5,731.8 2261.0,732.6 2264.5,731.5 2268.0,730.9 2271.5,732.5 2275.0,732.3 2278.5,732.5 2282.0,732.2 2285.5,732.5 2289.0,731.9 2292.5,732.7 2296.0,733.0 2299.5,732.4 2303.0,733.0 2306.5,731.1 2310.0,731.9 2313.5,733.6 2317.0,733.9 2320.5,732.8 2324.0,732.6 2327.5,731.7 2331.0,733.0 2334.5,733.3 2338.0,731.7 2341.5,733.2 2345.0,733.2 2348.5,733.2 2352.0,732.0 2355.5,733.3 2359.0,731.8 2362.5,734.0 2366.0,733.0 2369.5,732.1 2373.0,734.0 2376.5,733.8 2380.0,732.5 2383.5,734.6 2387.0,732.2 2390.5,733.2 2394.0,733.9 2397.5,731.3 2398.2,733.8" fill="none" stroke="#000000" stroke-width="3.6" stroke-linejoin="round"/>
<polyline points="1347.5,727.0 1351.0,727.0 1354.5,726.2 1358.0,727.2 1361.5,726.2 1365.0,726.3 1368.5,726.7 1372.0,726.1 1375.5,728.2 1379.0,726.0 1382.5,726.4 1386.0,726.8 1389.5,727.0 1393.0,727.6 1396.5,727.6 1400.0,726.8 1403.5,726.7 1407.0,727.0 1410.5,727.6 1414.0,727.5 1417.5,726.6 1421.0,725.5 1424.5,728.6 1428.0,727.7 1431.5,727.2 1435.0,727.3 1438.5,726.6 1442.0,726.2 1445.5,726.8 1449.0,726.8 1452.5,726.5 1456.0,725.9 1459.5,726.8 1463.0,727.4 1466.5,726.6 1470.0,727.0 1473.5,725.4 1477.0,726.8 1480.5,726.9 1484.0,726.1 1487.5,725.7 1491.0,727.3 1494.5,726.4 1498.0,727.4 1501.5,726.7 1505.0,727.5 1508.5,726.8 1512.0,725.9 1515.5,727.0 1519.0,726.8 1522.5,727.5 1526.0,726.7 1529.5,726.8 1533.0,727.8 1536.5,728.0 1540.0,727.7 1543.5,728.0 1547.0,727.6 1550.5,727.8 1554.0,727.9 1557.5,727.6 1561.0,727.4 1564.5,727.5 1568.0,729.2 1571.5,727.4 1575.0,727.3 1578.5,727.2 1582.0,727.5 1585.5,727.8 1589.0,726.8 1592.5,726.2 1596.0,727.9 1599.5,726.5 1603.0,728.0 1606.5,727.9 1610.0,728.7 1613.5,729.2 1617.0,728.2 1620.5,727.6 1624.0,727.1 1627.5,727.5 1631.0,728.1 1634.5,726.6 1638.0,728.2 1641.5,728.2 1645.0,728.7 1648.5,728.0 1652.0,728.4 1655.5,727.8 1659.0,728.0 1662.5,727.0 1666.0,728.5 1669.5,729.6 1673.0,728.5 1676.5,728.7 1680.0,727.7 1683.5,729.5 1687.0,727.9 1690.5,729.1 1694.0,728.6 1697.5,727.8 1701.0,729.3 1704.5,728.5 1708.0,728.6 1711.5,728.7 1715.0,728.3 1718.5,728.0 1722.0,728.5 1725.5,727.8 1729.0,728.0 1732.5,727.3 1736.0,726.6 1739.5,727.0 1743.0,727.0 1746.5,727.2 1750.0,727.9 1753.5,725.5 1757.0,726.7 1760.5,724.7 1764.0,725.4 1767.5,725.5 1771.0,724.0 1774.5,724.0 1778.0,725.3 1781.5,725.0 1785.0,724.6 1788.5,723.8 1792.0,725.7 1795.5,723.7 1799.0,722.9 1802.5,724.6 1806.0,723.5 1809.5,722.5 1813.0,723.3 1816.5,722.2 1820.0,722.1 1823.5,721.4 1827.0,719.8 1830.5,720.7 1834.0,719.3 1837.5,717.6 1841.0,716.2 1844.5,714.7 1848.0,709.8 1851.5,705.3 1855.0,699.6 1858.5,689.2 1862.0,674.5 1865.5,659.4 1869.0,633.9 1872.5,603.9 1876.0,573.4 1879.5,533.9 1883.0,476.8 1886.5,442.2 1890.0,392.5 1893.5,346.6 1897.0,309.6 1900.5,279.9 1904.0,255.3 1907.5,229.6 1911.0,217.6 1914.5,240.0 1918.0,271.1 1921.5,311.3 1925.0,361.3 1928.5,416.2 1932.0,490.1 1935.5,539.8 1939.0,579.3 1942.5,611.9 1946.0,640.5 1949.5,670.7 1953.0,684.0 1956.5,692.3 1960.0,699.3 1963.5,705.2 1967.0,710.4 1970.5,713.4 1974.0,715.6 1977.5,717.3 1981.0,718.7 1984.5,718.5 1988.0,720.2 1991.5,720.7 1995.0,721.0 1998.5,721.4 2002.0,722.0 2005.5,722.8 2009.0,722.7 2012.5,724.5 2016.0,724.6 2019.5,725.2 2023.0,725.8 2026.5,726.5 2030.0,725.9 2033.5,726.7 2037.0,725.9 2040.5,725.7 2044.0,726.2 2047.5,729.0 2051.0,726.7 2054.5,728.6 2058.0,729.5 2061.5,728.2 2065.0,730.0 2068.5,730.3 2072.0,729.8 2075.5,731.0 2079.0,729.9 2082.5,729.0 2086.0,730.1 2089.5,729.5 2093.0,729.0 2096.5,729.2 2100.0,732.0 2103.5,730.0 2107.0,730.5 2110.5,730.1 2114.0,730.8 2117.5,730.7 2121.0,730.7 2124.5,730.2 2128.0,730.1 2131.5,730.7 2135.0,731.6 2138.5,733.0 2142.0,732.3 2145.5,733.0 2149.0,732.1 2152.5,731.7 2156.0,730.9 2159.5,731.9 2163.0,730.4 2166.5,731.8 2170.0,733.3 2173.5,732.4 2177.0,733.1 2180.5,732.0 2184.0,731.3 2187.5,732.0 2191.0,732.1 2194.5,733.4 2198.0,734.0 2201.5,732.0 2205.0,732.3 2208.5,732.5 2212.0,732.4 2215.5,731.7 2219.0,732.8 2222.5,733.0 2226.0,733.0 2229.5,731.9 2233.0,732.7 2236.5,731.5 2240.0,733.6 2243.5,732.1 2247.0,732.7 2250.5,732.6 2254.0,732.6 2257.5,732.2 2261.0,731.7 2264.5,734.4 2268.0,733.3 2271.5,733.3 2275.0,734.7 2278.5,733.1 2282.0,733.6 2285.5,733.2 2289.0,734.1 2292.5,733.6 2296.0,733.5 2299.5,733.1 2303.0,733.5 2306.5,734.2 2310.0,731.8 2313.5,733.3 2317.0,733.1 2320.5,733.2 2324.0,732.0 2327.5,734.0 2331.0,732.8 2334.5,733.3 2338.0,733.1 2341.5,732.3 2345.0,733.2 2348.5,732.2 2352.0,732.8 2355.5,733.3 2359.0,733.6 2362.5,733.6 2366.0,733.5 2369.5,735.2 2373.0,733.9 2376.5,732.7 2380.0,733.2 2383.5,733.1 2387.0,733.5 2390.5,733.2 2394.0,733.0 2397.5,734.9 2398.2,733.7" fill="none" stroke="#FF0000" stroke-width="3.6" stroke-linejoin="round"/>
<polyline points="1347.5,721.8 1351.0,721.8 1354.5,721.9 1358.0,723.1 1361.5,722.4 1365.0,722.9 1368.5,719.7 1372.0,722.3 1375.5,722.8 1379.0,723.5 1382.5,722.0 1386.0,720.7 1389.5,722.5 1393.0,721.6 1396.5,720.7 1400.0,721.6 1403.5,722.8 1407.0,722.9 1410.5,722.6 1414.0,721.2 1417.5,723.9 1421.0,721.2 1424.5,722.0 1428.0,720.9 1431.5,723.0 1435.0,722.4 1438.5,722.7 1442.0,722.1 1445.5,722.0 1449.0,722.2 1452.5,720.6 1456.0,722.8 1459.5,722.7 1463.0,721.7 1466.5,722.0 1470.0,722.3 1473.5,723.2 1477.0,722.4 1480.5,722.1 1484.0,721.6 1487.5,720.9 1491.0,721.6 1494.5,722.1 1498.0,721.8 1501.5,722.1 1505.0,722.6 1508.5,722.4 1512.0,722.3 1515.5,722.6 1519.0,722.2 1522.5,722.1 1526.0,722.5 1529.5,720.8 1533.0,723.1 1536.5,721.2 1540.0,722.8 1543.5,722.2 1547.0,723.1 1550.5,722.3 1554.0,721.6 1557.5,723.1 1561.0,722.5 1564.5,722.5 1568.0,722.5 1571.5,723.2 1575.0,723.1 1578.5,722.7 1582.0,721.4 1585.5,722.3 1589.0,722.7 1592.5,724.1 1596.0,723.0 1599.5,722.7 1603.0,723.7 1606.5,722.8 1610.0,722.9 1613.5,723.1 1617.0,721.9 1620.5,723.7 1624.0,723.4 1627.5,722.9 1631.0,722.3 1634.5,723.3 1638.0,724.2 1641.5,722.8 1645.0,722.5 1648.5,723.6 1652.0,722.1 1655.5,721.7 1659.0,723.0 1662.5,722.9 1666.0,723.2 1669.5,723.0 1673.0,723.7 1676.5,723.3 1680.0,723.1 1683.5,723.2 1687.0,724.0 1690.5,724.3 1694.0,724.2 1697.5,724.1 1701.0,721.1 1704.5,722.8 1708.0,723.2 1711.5,723.6 1715.0,722.1 1718.5,724.3 1722.0,723.3 1725.5,722.4 1729.0,722.8 1732.5,722.2 1736.0,721.7 1739.5,722.4 1743.0,721.4 1746.5,720.4 1750.0,720.7 1753.5,720.8 1757.0,719.8 1760.5,721.2 1764.0,719.1 1767.5,720.9 1771.0,719.9 1774.5,718.2 1778.0,718.6 1781.5,719.0 1785.0,717.6 1788.5,716.4 1792.0,717.0 1795.5,718.1 1799.0,715.0 1802.5,716.2 1806.0,715.4 1809.5,714.9 1813.0,714.2 1816.5,713.8 1820.0,714.1 1823.5,713.1 1827.0,710.9 1830.5,711.7 1834.0,707.1 1837.5,704.4 1841.0,698.8 1844.5,693.8 1848.0,687.1 1851.5,680.3 1855.0,670.3 1858.5,658.4 1862.0,638.8 1865.5,615.5 1869.0,579.5 1872.5,537.8 1876.0,496.5 1879.5,460.8 1883.0,438.0 1886.5,435.2 1890.0,432.7 1893.5,431.5 1897.0,431.8 1900.5,422.6 1904.0,404.7 1907.5,379.8 1911.0,353.4 1914.5,324.9 1918.0,323.0 1921.5,350.3 1925.0,384.0 1928.5,418.4 1932.0,465.0 1935.5,520.8 1939.0,564.6 1942.5,599.1 1946.0,630.2 1949.5,652.4 1953.0,671.2 1956.5,684.3 1960.0,688.7 1963.5,690.6 1967.0,693.4 1970.5,702.9 1974.0,708.8 1977.5,710.9 1981.0,711.2 1984.5,713.6 1988.0,714.7 1991.5,716.2 1995.0,715.8 1998.5,716.6 2002.0,716.7 2005.5,717.8 2009.0,718.2 2012.5,719.3 2016.0,719.5 2019.5,719.3 2023.0,719.7 2026.5,720.0 2030.0,720.4 2033.5,721.8 2037.0,719.2 2040.5,721.3 2044.0,722.0 2047.5,723.0 2051.0,721.6 2054.5,723.1 2058.0,723.8 2061.5,723.1 2065.0,722.4 2068.5,723.8 2072.0,723.5 2075.5,725.1 2079.0,724.3 2082.5,726.5 2086.0,725.4 2089.5,724.9 2093.0,725.3 2096.5,725.0 2100.0,726.3 2103.5,727.2 2107.0,726.0 2110.5,727.0 2114.0,725.6 2117.5,726.7 2121.0,728.3 2124.5,725.6 2128.0,727.7 2131.5,727.7 2135.0,725.5 2138.5,725.9 2142.0,726.4 2145.5,727.9 2149.0,726.9 2152.5,727.2 2156.0,728.0 2159.5,727.6 2163.0,727.8 2166.5,727.4 2170.0,728.6 2173.5,727.3 2177.0,729.2 2180.5,727.7 2184.0,727.5 2187.5,728.6 2191.0,728.5 2194.5,726.8 2198.0,728.5 2201.5,727.4 2205.0,727.9 2208.5,729.1 2212.0,728.0 2215.5,728.9 2219.0,728.5 2222.5,730.3 2226.0,728.8 2229.5,728.0 2233.0,728.2 2236.5,728.4 2240.0,729.2 2243.5,729.1 2247.0,729.9 2250.5,729.4 2254.0,729.4 2257.5,729.6 2261.0,729.3 2264.5,729.7 2268.0,730.1 2271.5,730.1 2275.0,729.2 2278.5,728.3 2282.0,729.1 2285.5,729.9 2289.0,727.9 2292.5,729.4 2296.0,730.2 2299.5,729.4 2303.0,729.1 2306.5,731.2 2310.0,731.0 2313.5,729.8 2317.0,731.0 2320.5,731.0 2324.0,729.2 2327.5,732.1 2331.0,729.4 2334.5,729.9 2338.0,729.3 2341.5,730.2 2345.0,729.2 2348.5,730.2 2352.0,731.0 2355.5,730.4 2359.0,730.1 2362.5,731.4 2366.0,729.6 2369.5,731.0 2373.0,730.1 2376.5,730.5 2380.0,730.3 2383.5,730.4 2387.0,730.3 2390.5,729.7 2394.0,729.9 2397.5,730.7 2398.2,730.3" fill="none" stroke="#0000FF" stroke-width="3.6" stroke-linejoin="round"/>
<polyline points="1347.5,723.2 1351.0,723.5 1354.5,723.5 1358.0,723.9 1361.5,724.1 1365.0,724.0 1368.5,723.4 1372.0,723.8 1375.5,722.7 1379.0,721.5 1382.5,723.6 1386.0,722.3 1389.5,722.7 1393.0,722.4 1396.5,723.7 1400.0,722.2 1403.5,723.3 1407.0,722.6 1410.5,721.9 1414.0,721.5 1417.5,723.0 1421.0,722.8 1424.5,722.9 1428.0,723.6 1431.5,722.3 1435.0,722.1 1438.5,721.6 1442.0,721.5 1445.5,721.0 1449.0,720.3 1452.5,722.2 1456.0,719.0 1459.5,720.3 1463.0,720.1 1466.5,719.6 1470.0,718.4 1473.5,718.6 1477.0,718.0 1480.5,717.1 1484.0,717.4 1487.5,716.6 1491.0,715.8 1494.5,715.9 1498.0,713.6 1501.5,713.6 1505.0,711.5 1508.5,710.7 1512.0,708.5 1515.5,706.4 1519.0,702.9 1522.5,700.2 1526.0,695.9 1529.5,690.2 1533.0,682.6 1536.5,674.0 1540.0,664.0 1543.5,655.7 1547.0,644.7 1550.5,634.5 1554.0,626.6 1557.5,618.7 1561.0,609.6 1564.5,603.0 1568.0,602.8 1571.5,604.9 1575.0,611.0 1578.5,622.7 1582.0,633.0 1585.5,651.8 1589.0,664.7 1592.5,670.1 1596.0,676.6 1599.5,678.5 1603.0,683.1 1606.5,688.8 1610.0,693.2 1613.5,699.6 1617.0,701.6 1620.5,705.9 1624.0,709.4 1627.5,711.2 1631.0,712.3 1634.5,712.5 1638.0,714.3 1641.5,712.7 1645.0,713.6 1648.5,714.5 1652.0,714.2 1655.5,714.9 1659.0,715.7 1662.5,716.7 1666.0,717.5 1669.5,719.1 1673.0,719.3 1676.5,721.3 1680.0,720.1 1683.5,722.7 1687.0,722.3 1690.5,721.5 1694.0,720.2 1697.5,719.5 1701.0,720.5 1704.5,719.3 1708.0,719.1 1711.5,717.7 1715.0,718.6 1718.5,716.6 1722.0,716.7 1725.5,714.6 1729.0,714.6 1732.5,714.6 1736.0,713.0 1739.5,711.9 1743.0,711.7 1746.5,709.7 1750.0,709.3 1753.5,704.2 1757.0,702.6 1760.5,697.3 1764.0,689.6 1767.5,682.7 1771.0,676.8 1774.5,667.4 1778.0,659.8 1781.5,652.9 1785.0,642.8 1788.5,633.1 1792.0,621.9 1795.5,614.0 1799.0,605.6 1802.5,596.5 1806.0,589.2 1809.5,591.8 1813.0,597.3 1816.5,605.4 1820.0,616.0 1823.5,622.5 1827.0,635.0 1830.5,643.4 1834.0,655.0 1837.5,663.7 1841.0,672.8 1844.5,682.4 1848.0,689.3 1851.5,695.8 1855.0,702.0 1858.5,705.3 1862.0,709.7 1865.5,711.6 1869.0,712.0 1872.5,712.4 1876.0,713.3 1879.5,715.3 1883.0,716.0 1886.5,715.4 1890.0,715.5 1893.5,717.8 1897.0,716.2 1900.5,717.8 1904.0,717.4 1907.5,717.1 1911.0,718.8 1914.5,718.9 1918.0,720.4 1921.5,721.4 1925.0,719.9 1928.5,721.1 1932.0,721.4 1935.5,720.5 1939.0,720.6 1942.5,722.7 1946.0,721.5 1949.5,722.0 1953.0,722.0 1956.5,722.4 1960.0,722.2 1963.5,723.4 1967.0,724.0 1970.5,723.0 1974.0,722.4 1977.5,723.6 1981.0,722.5 1984.5,723.3 1988.0,724.7 1991.5,725.6 1995.0,724.2 1998.5,723.2 2002.0,724.5 2005.5,722.3 2009.0,723.4 2012.5,725.0 2016.0,724.3 2019.5,722.7 2023.0,722.4 2026.5,724.1 2030.0,723.3 2033.5,722.8 2037.0,723.3 2040.5,722.4 2044.0,721.2 2047.5,723.0 2051.0,721.6 2054.5,721.1 2058.0,720.5 2061.5,721.3 2065.0,719.4 2068.5,718.7 2072.0,715.7 2075.5,713.9 2079.0,709.9 2082.5,706.6 2086.0,702.6 2089.5,700.0 2093.0,697.8 2096.5,695.5 2100.0,688.0 2103.5,683.5 2107.0,678.7 2110.5,671.8 2114.0,663.7 2117.5,658.1 2121.0,652.8 2124.5,650.4 2128.0,648.5 2131.5,647.3 2135.0,645.9 2138.5,648.1 2142.0,652.6 2145.5,657.7 2149.0,661.5 2152.5,665.1 2156.0,670.9 2159.5,676.6 2163.0,680.9 2166.5,686.2 2170.0,694.2 2173.5,701.0 2177.0,708.0 2180.5,712.7 2184.0,717.4 2187.5,722.3 2191.0,724.8 2194.5,725.4 2198.0,726.0 2201.5,726.3 2205.0,727.8 2208.5,726.3 2212.0,727.4 2215.5,727.1 2219.0,728.9 2222.5,728.1 2226.0,727.8 2229.5,728.8 2233.0,728.4 2236.5,728.1 2240.0,729.7 2243.5,729.1 2247.0,730.0 2250.5,729.6 2254.0,729.4 2257.5,729.0 2261.0,728.1 2264.5,729.5 2268.0,729.1 2271.5,729.6 2275.0,729.2 2278.5,728.8 2282.0,728.6 2285.5,730.0 2289.0,730.5 2292.5,729.5 2296.0,730.1 2299.5,731.0 2303.0,729.5 2306.5,730.0 2310.0,729.6 2313.5,731.4 2317.0,730.9 2320.5,730.5 2324.0,729.8 2327.5,731.0 2331.0,732.1 2334.5,731.3 2338.0,731.4 2341.5,732.3 2345.0,731.1 2348.5,732.2 2352.0,732.8 2355.5,731.9 2359.0,732.1 2362.5,733.0 2366.0,733.0 2369.5,733.0 2373.0,733.5 2376.5,733.7 2380.0,733.0 2383.5,733.4 2387.0,734.4 2390.5,735.1 2394.0,735.5 2397.5,734.0 2398.2,735.5" fill="none" stroke="#008080" stroke-width="3.6" stroke-linejoin="round"/>
<polyline points="1347.5,737.5 1351.0,736.9 1354.5,737.3 1358.0,737.6 1361.5,738.3 1365.0,736.2 1368.5,737.4 1372.0,736.8 1375.5,736.8 1379.0,737.8 1382.5,737.5 1386.0,736.1 1389.5,736.7 1393.0,737.0 1396.5,735.8 1400.0,737.4 1403.5,736.7 1407.0,736.9 1410.5,737.0 1414.0,738.0 1417.5,736.7 1421.0,736.3 1424.5,737.9 1428.0,736.2 1431.5,736.1 1435.0,735.4 1438.5,737.2 1442.0,736.5 1445.5,736.6 1449.0,736.3 1452.5,736.1 1456.0,735.5 1459.5,735.4 1463.0,736.3 1466.5,736.0 1470.0,737.0 1473.5,735.2 1477.0,735.3 1480.5,734.8 1484.0,736.4 1487.5,734.1 1491.0,735.1 1494.5,735.1 1498.0,733.3 1501.5,733.2 1505.0,730.3 1508.5,730.7 1512.0,728.7 1515.5,728.7 1519.0,727.1 1522.5,724.6 1526.0,723.7 1529.5,720.6 1533.0,715.2 1536.5,706.0 1540.0,692.8 1543.5,679.4 1547.0,666.0 1550.5,648.6 1554.0,630.1 1557.5,610.1 1561.0,597.2 1564.5,585.2 1568.0,576.9 1571.5,576.3 1575.0,585.5 1578.5,599.0 1582.0,618.6 1585.5,647.5 1589.0,664.6 1592.5,677.3 1596.0,688.6 1599.5,693.7 1603.0,696.9 1606.5,698.7 1610.0,697.2 1613.5,691.1 1617.0,684.4 1620.5,675.8 1624.0,661.4 1627.5,648.3 1631.0,636.8 1634.5,626.7 1638.0,620.4 1641.5,619.1 1645.0,626.0 1648.5,636.2 1652.0,648.3 1655.5,666.4 1659.0,683.3 1662.5,698.6 1666.0,709.3 1669.5,717.0 1673.0,724.1 1676.5,729.0 1680.0,731.2 1683.5,733.4 1687.0,733.8 1690.5,735.1 1694.0,735.5 1697.5,735.8 1701.0,734.5 1704.5,736.0 1708.0,735.4 1711.5,737.6 1715.0,737.8 1718.5,738.1 1722.0,737.6 1725.5,736.8 1729.0,738.0 1732.5,737.3 1736.0,738.0 1739.5,737.0 1743.0,737.3 1746.5,738.2 1750.0,739.3 1753.5,738.1 1757.0,739.9 1760.5,740.4 1764.0,737.5 1767.5,738.5 1771.0,737.9 1774.5,738.6 1778.0,738.4 1781.5,738.8 1785.0,739.6 1788.5,739.7 1792.0,739.3 1795.5,739.1 1799.0,739.3 1802.5,739.3 1806.0,739.7 1809.5,739.4 1813.0,739.8 1816.5,738.5 1820.0,740.1 1823.5,740.8 1827.0,739.7 1830.5,738.6 1834.0,740.6 1837.5,739.4 1841.0,737.5 1844.5,739.6 1848.0,740.2 1851.5,740.1 1855.0,740.7 1858.5,740.3 1862.0,739.9 1865.5,738.4 1869.0,739.1 1872.5,740.0 1876.0,740.4 1879.5,739.2 1883.0,739.5 1886.5,740.3 1890.0,738.5 1893.5,738.5 1897.0,739.8 1900.5,740.2 1904.0,739.6 1907.5,738.3 1911.0,740.0 1914.5,739.0 1918.0,740.5 1921.5,740.0 1925.0,740.2 1928.5,740.5 1932.0,739.7 1935.5,740.7 1939.0,741.0 1942.5,740.4 1946.0,741.1 1949.5,739.6 1953.0,740.8 1956.5,740.3 1960.0,739.4 1963.5,740.1 1967.0,739.7 1970.5,739.7 1974.0,740.2 1977.5,740.9 1981.0,739.9 1984.5,740.2 1988.0,739.1 1991.5,740.2 1995.0,741.0 1998.5,740.8 2002.0,740.5 2005.5,739.8 2009.0,739.4 2012.5,740.1 2016.0,739.2 2019.5,739.3 2023.0,740.9 2026.5,739.5 2030.0,741.5 2033.5,739.1 2037.0,740.5 2040.5,739.3 2044.0,740.3 2047.5,739.4 2051.0,740.2 2054.5,740.1 2058.0,739.9 2061.5,740.6 2065.0,741.1 2068.5,739.3 2072.0,739.9 2075.5,738.8 2079.0,738.0 2082.5,738.4 2086.0,732.7 2089.5,730.4 2093.0,725.8 2096.5,723.1 2100.0,719.8 2103.5,720.1 2107.0,715.2 2110.5,714.0 2114.0,710.9 2117.5,706.3 2121.0,702.4 2124.5,693.3 2128.0,675.7 2131.5,661.5 2135.0,653.1 2138.5,644.5 2142.0,642.3 2145.5,646.6 2149.0,654.0 2152.5,660.3 2156.0,668.1 2159.5,676.4 2163.0,684.8 2166.5,693.8 2170.0,701.1 2173.5,708.7 2177.0,715.2 2180.5,722.4 2184.0,729.0 2187.5,731.7 2191.0,736.8 2194.5,739.0 2198.0,740.5 2201.5,742.1 2205.0,741.4 2208.5,741.6 2212.0,742.1 2215.5,742.9 2219.0,745.2 2222.5,741.9 2226.0,743.7 2229.5,743.7 2233.0,744.8 2236.5,744.0 2240.0,742.7 2243.5,745.7 2247.0,744.0 2250.5,744.9 2254.0,744.1 2257.5,744.4 2261.0,744.9 2264.5,746.0 2268.0,746.1 2271.5,745.1 2275.0,746.0 2278.5,745.4 2282.0,745.8 2285.5,745.8 2289.0,746.2 2292.5,745.3 2296.0,745.7 2299.5,745.9 2303.0,745.8 2306.5,745.2 2310.0,747.0 2313.5,745.3 2317.0,746.2 2320.5,745.7 2324.0,746.4 2327.5,743.8 2331.0,746.8 2334.5,745.1 2338.0,744.2 2341.5,745.1 2345.0,746.5 2348.5,745.0 2352.0,743.6 2355.5,744.0 2359.0,745.1 2362.5,742.9 2366.0,743.6 2369.5,743.3 2373.0,744.9 2376.5,742.8 2380.0,743.7 2383.5,742.0 2387.0,741.6 2390.5,742.7 2394.0,742.1 2397.5,740.0 2398.2,741.7" fill="none" stroke="#FF00FF" stroke-width="3.6" stroke-linejoin="round"/>
<line x1="131.3" y1="51.5" x2="1184.7" y2="51.5" stroke="#000" stroke-width="3.3"/>
<line x1="131.3" y1="829.2" x2="1184.7" y2="829.2" stroke="#000" stroke-width="2.8"/>
<line x1="131.3" y1="49.85" x2="131.3" y2="845" stroke="#000" stroke-width="2.2"/>
<line x1="1184.7" y1="49.85" x2="1184.7" y2="845" stroke="#000" stroke-width="3"/>
<line x1="1347.0" y1="51.5" x2="2399.0" y2="51.5" stroke="#000" stroke-width="3.3"/>
<line x1="1347.0" y1="829.2" x2="2399.0" y2="829.2" stroke="#000" stroke-width="2.8"/>
<line x1="1347.0" y1="49.85" x2="1347.0" y2="845" stroke="#000" stroke-width="3.7"/>
<line x1="2399.0" y1="49.85" x2="2399.0" y2="845" stroke="#000" stroke-width="3"/>
<text x="131.3" y="891" font-size="45" text-anchor="middle">20</text>
<line x1="219.0" y1="829.2" x2="219.0" y2="838.2" stroke="#000" stroke-width="2.6"/>
<line x1="306.6" y1="829.2" x2="306.6" y2="845.2" stroke="#000" stroke-width="2.6"/>
<text x="306.6" y="891" font-size="45" text-anchor="middle">30</text>
<line x1="394.3" y1="829.2" x2="394.3" y2="838.2" stroke="#000" stroke-width="2.6"/>
<line x1="481.9" y1="829.2" x2="481.9" y2="845.2" stroke="#000" stroke-width="2.6"/>
<text x="481.9" y="891" font-size="45" text-anchor="middle">40</text>
<line x1="569.5" y1="829.2" x2="569.5" y2="838.2" stroke="#000" stroke-width="2.6"/>
<line x1="657.2" y1="829.2" x2="657.2" y2="845.2" stroke="#000" stroke-width="2.6"/>
<text x="657.2" y="891" font-size="45" text-anchor="middle">50</text>
<line x1="744.9" y1="829.2" x2="744.9" y2="838.2" stroke="#000" stroke-width="2.6"/>
<line x1="832.5" y1="829.2" x2="832.5" y2="845.2" stroke="#000" stroke-width="2.6"/>
<text x="832.5" y="891" font-size="45" text-anchor="middle">60</text>
<line x1="920.2" y1="829.2" x2="920.2" y2="838.2" stroke="#000" stroke-width="2.6"/>
<line x1="1007.8" y1="829.2" x2="1007.8" y2="845.2" stroke="#000" stroke-width="2.6"/>
<text x="1007.8" y="891" font-size="45" text-anchor="middle">70</text>
<line x1="1095.5" y1="829.2" x2="1095.5" y2="838.2" stroke="#000" stroke-width="2.6"/>
<text x="1183.1" y="891" font-size="45" text-anchor="middle">80</text>
<text x="1346.5" y="891" font-size="45" text-anchor="middle">27</text>
<line x1="1434.2" y1="829.2" x2="1434.2" y2="838.2" stroke="#000" stroke-width="2.6"/>
<line x1="1521.8" y1="829.2" x2="1521.8" y2="845.2" stroke="#000" stroke-width="2.6"/>
<text x="1521.8" y="891" font-size="45" text-anchor="middle">28</text>
<line x1="1609.5" y1="829.2" x2="1609.5" y2="838.2" stroke="#000" stroke-width="2.6"/>
<line x1="1697.2" y1="829.2" x2="1697.2" y2="845.2" stroke="#000" stroke-width="2.6"/>
<text x="1697.2" y="891" font-size="45" text-anchor="middle">29</text>
<line x1="1784.8" y1="829.2" x2="1784.8" y2="838.2" stroke="#000" stroke-width="2.6"/>
<line x1="1872.5" y1="829.2" x2="1872.5" y2="845.2" stroke="#000" stroke-width="2.6"/>
<text x="1872.5" y="891" font-size="45" text-anchor="middle">30</text>
<line x1="1960.2" y1="829.2" x2="1960.2" y2="838.2" stroke="#000" stroke-width="2.6"/>
<line x1="2047.8" y1="829.2" x2="2047.8" y2="845.2" stroke="#000" stroke-width="2.6"/>
<text x="2047.8" y="891" font-size="45" text-anchor="middle">31</text>
<line x1="2135.5" y1="829.2" x2="2135.5" y2="838.2" stroke="#000" stroke-width="2.6"/>
<line x1="2223.2" y1="829.2" x2="2223.2" y2="845.2" stroke="#000" stroke-width="2.6"/>
<text x="2223.2" y="891" font-size="45" text-anchor="middle">32</text>
<line x1="2310.8" y1="829.2" x2="2310.8" y2="838.2" stroke="#000" stroke-width="2.6"/>
<text x="2398.5" y="891" font-size="45" text-anchor="middle">33</text>
<text x="516.4" y="966.7" font-size="44.5" letter-spacing="0.07" style="fill:#000;stroke:#000">2Theta (dgree)</text>
<text x="1722.3" y="966.8" font-size="44.5" letter-spacing="0.07" style="fill:#000;stroke:#000">2Theta (degree)</text>
<text transform="translate(57.5,439.5) rotate(-90)" font-size="45.4" text-anchor="middle">Intensity (a.u.)</text>
<text transform="translate(1272.5,439.5) rotate(-90)" font-size="45.4" text-anchor="middle">Intensity (a.u.)</text>
<text x="40.9" y="65.8" font-size="60" style="fill:#000;stroke:#000">(a)</text>
<text x="1259.1" y="63.0" font-size="58.5" style="fill:#000;stroke:#000">(b)</text>
<text x="904.3" y="94.3" font-size="41.4" letter-spacing="0.42" style="fill:#000;stroke:#000">T: Tetragonal</text>
<text x="904.9" y="146.6" font-size="41.4" letter-spacing="-0.32" style="fill:#000;stroke:#000">C: Cubic</text>
<text x="904.3" y="197.7" font-size="41.4" letter-spacing="-0.12" style="fill:#000;stroke:#000">M: Monoclinic</text>
<text x="904.3" y="249.4" font-size="41.4" letter-spacing="0.01" style="fill:#000;stroke:#000">P:Pyrochlore</text>
<text x="1366.0" y="110.0" font-size="41.4" letter-spacing="-0.44" style="fill:#000;stroke:#000">C: Cubic</text>
<text x="1366.0" y="162.0" font-size="41.4" letter-spacing="-0.12" style="fill:#000;stroke:#000">M: Monoclinic</text>
<text x="1366.0" y="212.7" font-size="41.4" letter-spacing="0.41" style="fill:#000;stroke:#000">T: Tetragonal</text>
<text x="1366.0" y="266.2" font-size="41.4" letter-spacing="-0.05" style="fill:#000;stroke:#000">P: Pyrochlore</text>
<text x="150.2" y="263.4" font-size="45.8" letter-spacing="-0.79" style="fill:#000;stroke:#000">LaSZ</text>
<text x="144.1" y="407.7" font-size="45.8" letter-spacing="-0.58" style="fill:#000;stroke:#000">NdSZ</text>
<text x="146.8" y="544.8" font-size="45.8" letter-spacing="0.06" style="fill:#000;stroke:#000">GdSZ</text>
<text x="138.4" y="655.8" font-size="45.8" letter-spacing="-0.22" style="fill:#000;stroke:#000">GdYSZ</text>
<text x="148.9" y="766.4" font-size="45.8" letter-spacing="-0.99" style="fill:#000;stroke:#000">YSZ</text>
<text x="269.3" y="155.6" font-size="36.5" style="fill:#000;stroke:#000">P</text>
<text x="279.3" y="220.1" font-size="39.3" style="fill:#000;stroke:#000">M</text>
<text x="320.9" y="230.0" font-size="40.9" style="fill:#000;stroke:#000">M</text>
<text x="167.8" y="304.5" font-size="38.5" style="fill:#000;stroke:#000">M</text>
<text x="354.0" y="278.3" font-size="38.6" style="fill:#000;stroke:#000">P</text>
<text x="390.2" y="291.2" font-size="39.9" style="fill:#000;stroke:#000">M</text>
<text x="481.7" y="300.8" font-size="39.8" style="fill:#000;stroke:#000">M</text>
<text x="561.6" y="312.1" font-size="40.4" style="fill:#000;stroke:#000">M</text>
<text x="601.8" y="287.2" font-size="38.5" style="fill:#000;stroke:#000">P</text>
<text x="642.5" y="297.3" font-size="41.2" style="fill:#000;stroke:#000">M</text>
<text x="720.2" y="310.4" font-size="40.4" style="fill:#000;stroke:#000">M</text>
<text x="763.4" y="281.5" font-size="39.4" style="fill:#000;stroke:#000">P</text>
<text x="818.1" y="314.1" font-size="39.9" style="fill:#000;stroke:#000">M</text>
<text x="865.9" y="312.4" font-size="40.5" style="fill:#000;stroke:#000">M</text>
<text x="919.1" y="314.1" font-size="39.9" style="fill:#000;stroke:#000">M</text>
<text x="983.9" y="309.8" font-size="41.3" style="fill:#000;stroke:#000">M</text>
<text x="1123.4" y="314.1" font-size="39.0" style="fill:#000;stroke:#000">P</text>
<text x="1163.3" y="314.1" font-size="38.5" style="fill:#000;stroke:#000">P</text>
<text x="322.4" y="358.2" font-size="40.4" style="fill:#000;stroke:#000">T,C</text>
<text x="373.6" y="404.9" font-size="41.5" style="fill:#000;stroke:#000">T,C</text>
<text x="628.6" y="392.0" font-size="41.8" style="fill:#000;stroke:#000">T,C</text>
<text x="795.5" y="412.9" font-size="40.1" style="fill:#000;stroke:#000">T,C</text>
<text x="860.9" y="439.7" font-size="38.5" style="fill:#000;stroke:#000">T,C</text>
<text x="1011.6" y="446.5" font-size="40.9" style="fill:#000;stroke:#000">T,C</text>
<text x="1890.0" y="120.2" font-size="41" style="fill:#000;stroke:#000">T,C</text>
<text transform="translate(1827.3,397.9) scale(1,1.08)" font-size="36.5" style="fill:#0000FF;stroke:#0000FF">C</text>
<text transform="translate(1558.0,559.0) scale(1,1.12)" font-size="35.5" style="fill:#FF00FF;stroke:#FF00FF">M</text>
<text transform="translate(1629.6,599.7) scale(1,1.07)" font-size="37" style="fill:#FF00FF;stroke:#FF00FF">P</text>
<text transform="translate(1794.9,573.2) scale(1,1.08)" font-size="36.5" style="fill:#008000;stroke:#008000">C</text>
<text transform="translate(2126.3,613.7) scale(1,1.08)" font-size="36.5" style="fill:#FF00FF;stroke:#FF00FF">M</text>
<line x1="2115" y1="63.7" x2="2383.5" y2="63.7" stroke="#d8d8d8" stroke-width="1.6"/>
<line x1="2382.7" y1="63" x2="2382.7" y2="345" stroke="#999" stroke-width="1.6"/>
<line x1="2115.7" y1="63" x2="2115.7" y2="345" stroke="#444" stroke-width="1.8"/>
<line x1="2115" y1="344.3" x2="2383.5" y2="344.3" stroke="#000" stroke-width="1.9"/>
<line x1="2128" y1="98" x2="2218" y2="98" stroke="#000" stroke-width="4"/>
<text x="2227.7" y="109.8" font-size="44.2" letter-spacing="-0.13" style="fill:#000;stroke:#000">YSZ</text>
<line x1="2128" y1="153.4" x2="2218" y2="153.4" stroke="#FF0000" stroke-width="4"/>
<text x="2227.7" y="165.9" font-size="44.2" letter-spacing="0.22" style="fill:#000;stroke:#000">GdYSZ</text>
<line x1="2128" y1="210.1" x2="2218" y2="210.1" stroke="#0000FF" stroke-width="4"/>
<text x="2227.7" y="222.0" font-size="44.2" letter-spacing="0.23" style="fill:#000;stroke:#000">GdSZ</text>
<line x1="2128" y1="264.9" x2="2218" y2="264.9" stroke="#008080" stroke-width="4"/>
<text x="2227.7" y="278.3" font-size="44.2" letter-spacing="0.02" style="fill:#000;stroke:#000">NdSZ</text>
<line x1="2128" y1="320.5" x2="2218" y2="320.5" stroke="#FF00FF" stroke-width="4"/>
<text x="2227.7" y="333.5" font-size="44.2" letter-spacing="-0.11" style="fill:#000;stroke:#000">LaSZ</text>
<line x1="1856.9" y1="404.9" x2="1867.5" y2="417.2" stroke="#0000FF" stroke-width="3.6"/>
<polygon points="1879.8,431.3 1870.2,412.6 1862.6,419.2" fill="#0000FF"/>
</svg>
</body></html>
